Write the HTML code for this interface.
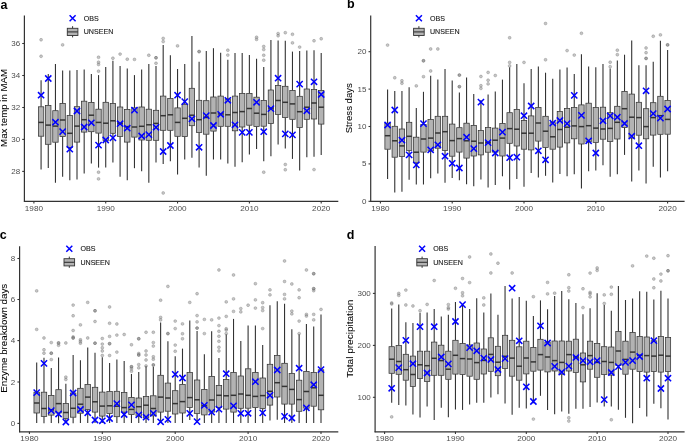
<!DOCTYPE html>
<html><head><meta charset="utf-8"><title>UNSEEN boxplots</title>
<style>
html,body{margin:0;padding:0;background:#fff;}
body{width:685px;height:441px;overflow:hidden;}
svg{display:block;font-family:"Liberation Sans", sans-serif;will-change:transform;}
</style></head>
<body>
<svg width="685" height="441" viewBox="0 0 685 441">
<rect width="685" height="441" fill="#fff"/>
<line x1="41.08" y1="80.20" x2="41.08" y2="106.80" stroke="#333333" stroke-width="1.1"/>
<line x1="41.08" y1="136.20" x2="41.08" y2="169.40" stroke="#333333" stroke-width="1.1"/>
<line x1="48.27" y1="74.10" x2="48.27" y2="105.40" stroke="#333333" stroke-width="1.1"/>
<line x1="48.27" y1="144.30" x2="48.27" y2="168.00" stroke="#333333" stroke-width="1.1"/>
<line x1="55.45" y1="63.90" x2="55.45" y2="110.70" stroke="#333333" stroke-width="1.1"/>
<line x1="55.45" y1="142.20" x2="55.45" y2="182.70" stroke="#333333" stroke-width="1.1"/>
<line x1="62.63" y1="70.40" x2="62.63" y2="103.40" stroke="#333333" stroke-width="1.1"/>
<line x1="62.63" y1="136.50" x2="62.63" y2="176.70" stroke="#333333" stroke-width="1.1"/>
<line x1="69.81" y1="70.60" x2="69.81" y2="115.60" stroke="#333333" stroke-width="1.1"/>
<line x1="69.81" y1="147.50" x2="69.81" y2="180.30" stroke="#333333" stroke-width="1.1"/>
<line x1="77.00" y1="70.00" x2="77.00" y2="106.70" stroke="#333333" stroke-width="1.1"/>
<line x1="77.00" y1="142.10" x2="77.00" y2="179.40" stroke="#333333" stroke-width="1.1"/>
<line x1="84.18" y1="69.40" x2="84.18" y2="101.20" stroke="#333333" stroke-width="1.1"/>
<line x1="84.18" y1="132.10" x2="84.18" y2="173.60" stroke="#333333" stroke-width="1.1"/>
<line x1="91.36" y1="74.10" x2="91.36" y2="102.50" stroke="#333333" stroke-width="1.1"/>
<line x1="91.36" y1="131.70" x2="91.36" y2="163.60" stroke="#333333" stroke-width="1.1"/>
<line x1="98.54" y1="75.10" x2="98.54" y2="109.20" stroke="#333333" stroke-width="1.1"/>
<line x1="98.54" y1="133.10" x2="98.54" y2="167.60" stroke="#333333" stroke-width="1.1"/>
<line x1="105.72" y1="66.90" x2="105.72" y2="102.30" stroke="#333333" stroke-width="1.1"/>
<line x1="105.72" y1="140.50" x2="105.72" y2="167.60" stroke="#333333" stroke-width="1.1"/>
<line x1="112.91" y1="60.80" x2="112.91" y2="103.40" stroke="#333333" stroke-width="1.1"/>
<line x1="112.91" y1="133.30" x2="112.91" y2="162.60" stroke="#333333" stroke-width="1.1"/>
<line x1="120.09" y1="65.90" x2="120.09" y2="107.00" stroke="#333333" stroke-width="1.1"/>
<line x1="120.09" y1="136.40" x2="120.09" y2="176.70" stroke="#333333" stroke-width="1.1"/>
<line x1="127.27" y1="68.40" x2="127.27" y2="109.40" stroke="#333333" stroke-width="1.1"/>
<line x1="127.27" y1="142.10" x2="127.27" y2="180.30" stroke="#333333" stroke-width="1.1"/>
<line x1="134.46" y1="75.10" x2="134.46" y2="107.90" stroke="#333333" stroke-width="1.1"/>
<line x1="134.46" y1="137.10" x2="134.46" y2="168.20" stroke="#333333" stroke-width="1.1"/>
<line x1="141.64" y1="69.40" x2="141.64" y2="107.00" stroke="#333333" stroke-width="1.1"/>
<line x1="141.64" y1="140.00" x2="141.64" y2="171.30" stroke="#333333" stroke-width="1.1"/>
<line x1="148.82" y1="63.90" x2="148.82" y2="109.20" stroke="#333333" stroke-width="1.1"/>
<line x1="148.82" y1="140.30" x2="148.82" y2="182.70" stroke="#333333" stroke-width="1.1"/>
<line x1="156.00" y1="65.90" x2="156.00" y2="110.30" stroke="#333333" stroke-width="1.1"/>
<line x1="156.00" y1="140.30" x2="156.00" y2="162.60" stroke="#333333" stroke-width="1.1"/>
<line x1="163.19" y1="44.90" x2="163.19" y2="96.10" stroke="#333333" stroke-width="1.1"/>
<line x1="163.19" y1="130.30" x2="163.19" y2="164.00" stroke="#333333" stroke-width="1.1"/>
<line x1="170.37" y1="55.30" x2="170.37" y2="98.50" stroke="#333333" stroke-width="1.1"/>
<line x1="170.37" y1="130.30" x2="170.37" y2="161.30" stroke="#333333" stroke-width="1.1"/>
<line x1="177.55" y1="69.00" x2="177.55" y2="107.90" stroke="#333333" stroke-width="1.1"/>
<line x1="177.55" y1="136.30" x2="177.55" y2="174.50" stroke="#333333" stroke-width="1.1"/>
<line x1="184.73" y1="63.90" x2="184.73" y2="104.30" stroke="#333333" stroke-width="1.1"/>
<line x1="184.73" y1="136.60" x2="184.73" y2="159.50" stroke="#333333" stroke-width="1.1"/>
<line x1="191.92" y1="35.90" x2="191.92" y2="88.30" stroke="#333333" stroke-width="1.1"/>
<line x1="191.92" y1="125.70" x2="191.92" y2="157.70" stroke="#333333" stroke-width="1.1"/>
<line x1="199.10" y1="61.80" x2="199.10" y2="100.30" stroke="#333333" stroke-width="1.1"/>
<line x1="199.10" y1="132.40" x2="199.10" y2="167.60" stroke="#333333" stroke-width="1.1"/>
<line x1="206.28" y1="51.00" x2="206.28" y2="100.70" stroke="#333333" stroke-width="1.1"/>
<line x1="206.28" y1="134.20" x2="206.28" y2="175.80" stroke="#333333" stroke-width="1.1"/>
<line x1="213.46" y1="48.20" x2="213.46" y2="97.00" stroke="#333333" stroke-width="1.1"/>
<line x1="213.46" y1="131.10" x2="213.46" y2="159.50" stroke="#333333" stroke-width="1.1"/>
<line x1="220.65" y1="52.70" x2="220.65" y2="96.10" stroke="#333333" stroke-width="1.1"/>
<line x1="220.65" y1="126.30" x2="220.65" y2="159.50" stroke="#333333" stroke-width="1.1"/>
<line x1="227.83" y1="59.80" x2="227.83" y2="98.90" stroke="#333333" stroke-width="1.1"/>
<line x1="227.83" y1="126.30" x2="227.83" y2="163.50" stroke="#333333" stroke-width="1.1"/>
<line x1="235.01" y1="53.10" x2="235.01" y2="96.10" stroke="#333333" stroke-width="1.1"/>
<line x1="235.01" y1="130.80" x2="235.01" y2="166.70" stroke="#333333" stroke-width="1.1"/>
<line x1="242.19" y1="53.10" x2="242.19" y2="93.40" stroke="#333333" stroke-width="1.1"/>
<line x1="242.19" y1="127.00" x2="242.19" y2="162.20" stroke="#333333" stroke-width="1.1"/>
<line x1="249.38" y1="55.10" x2="249.38" y2="93.40" stroke="#333333" stroke-width="1.1"/>
<line x1="249.38" y1="125.20" x2="249.38" y2="154.40" stroke="#333333" stroke-width="1.1"/>
<line x1="256.56" y1="58.80" x2="256.56" y2="97.20" stroke="#333333" stroke-width="1.1"/>
<line x1="256.56" y1="126.60" x2="256.56" y2="149.10" stroke="#333333" stroke-width="1.1"/>
<line x1="263.74" y1="66.90" x2="263.74" y2="100.50" stroke="#333333" stroke-width="1.1"/>
<line x1="263.74" y1="126.20" x2="263.74" y2="161.30" stroke="#333333" stroke-width="1.1"/>
<line x1="270.92" y1="40.00" x2="270.92" y2="90.00" stroke="#333333" stroke-width="1.1"/>
<line x1="270.92" y1="123.50" x2="270.92" y2="156.20" stroke="#333333" stroke-width="1.1"/>
<line x1="278.11" y1="40.60" x2="278.11" y2="85.40" stroke="#333333" stroke-width="1.1"/>
<line x1="278.11" y1="114.40" x2="278.11" y2="144.60" stroke="#333333" stroke-width="1.1"/>
<line x1="285.29" y1="40.80" x2="285.29" y2="86.30" stroke="#333333" stroke-width="1.1"/>
<line x1="285.29" y1="117.50" x2="285.29" y2="148.60" stroke="#333333" stroke-width="1.1"/>
<line x1="292.47" y1="51.60" x2="292.47" y2="90.50" stroke="#333333" stroke-width="1.1"/>
<line x1="292.47" y1="119.30" x2="292.47" y2="158.90" stroke="#333333" stroke-width="1.1"/>
<line x1="299.65" y1="51.00" x2="299.65" y2="96.30" stroke="#333333" stroke-width="1.1"/>
<line x1="299.65" y1="127.50" x2="299.65" y2="170.40" stroke="#333333" stroke-width="1.1"/>
<line x1="306.83" y1="50.60" x2="306.83" y2="89.00" stroke="#333333" stroke-width="1.1"/>
<line x1="306.83" y1="119.30" x2="306.83" y2="157.30" stroke="#333333" stroke-width="1.1"/>
<line x1="314.02" y1="50.20" x2="314.02" y2="89.40" stroke="#333333" stroke-width="1.1"/>
<line x1="314.02" y1="119.00" x2="314.02" y2="156.70" stroke="#333333" stroke-width="1.1"/>
<line x1="321.20" y1="53.10" x2="321.20" y2="90.50" stroke="#333333" stroke-width="1.1"/>
<line x1="321.20" y1="124.10" x2="321.20" y2="154.90" stroke="#333333" stroke-width="1.1"/>
<rect x="38.39" y="106.80" width="5.39" height="29.40" fill="#b3b3b3" stroke="#333333" stroke-width="0.75"/>
<line x1="38.39" y1="122.40" x2="43.78" y2="122.40" stroke="#333333" stroke-width="1.5"/>
<rect x="45.57" y="105.40" width="5.39" height="38.90" fill="#b3b3b3" stroke="#333333" stroke-width="0.75"/>
<line x1="45.57" y1="125.10" x2="50.96" y2="125.10" stroke="#333333" stroke-width="1.5"/>
<rect x="52.75" y="110.70" width="5.39" height="31.50" fill="#b3b3b3" stroke="#333333" stroke-width="0.75"/>
<line x1="52.75" y1="126.10" x2="58.14" y2="126.10" stroke="#333333" stroke-width="1.5"/>
<rect x="59.94" y="103.40" width="5.39" height="33.10" fill="#b3b3b3" stroke="#333333" stroke-width="0.75"/>
<line x1="59.94" y1="120.00" x2="65.32" y2="120.00" stroke="#333333" stroke-width="1.5"/>
<rect x="67.12" y="115.60" width="5.39" height="31.90" fill="#b3b3b3" stroke="#333333" stroke-width="0.75"/>
<line x1="67.12" y1="133.30" x2="72.51" y2="133.30" stroke="#333333" stroke-width="1.5"/>
<rect x="74.30" y="106.70" width="5.39" height="35.40" fill="#b3b3b3" stroke="#333333" stroke-width="0.75"/>
<line x1="74.30" y1="126.10" x2="79.69" y2="126.10" stroke="#333333" stroke-width="1.5"/>
<rect x="81.48" y="101.20" width="5.39" height="30.90" fill="#b3b3b3" stroke="#333333" stroke-width="0.75"/>
<line x1="81.48" y1="119.70" x2="86.87" y2="119.70" stroke="#333333" stroke-width="1.5"/>
<rect x="88.67" y="102.50" width="5.39" height="29.20" fill="#b3b3b3" stroke="#333333" stroke-width="0.75"/>
<line x1="88.67" y1="115.20" x2="94.05" y2="115.20" stroke="#333333" stroke-width="1.5"/>
<rect x="95.85" y="109.20" width="5.39" height="23.90" fill="#b3b3b3" stroke="#333333" stroke-width="0.75"/>
<line x1="95.85" y1="122.40" x2="101.24" y2="122.40" stroke="#333333" stroke-width="1.5"/>
<rect x="103.03" y="102.30" width="5.39" height="38.20" fill="#b3b3b3" stroke="#333333" stroke-width="0.75"/>
<line x1="103.03" y1="123.20" x2="108.42" y2="123.20" stroke="#333333" stroke-width="1.5"/>
<rect x="110.21" y="103.40" width="5.39" height="29.90" fill="#b3b3b3" stroke="#333333" stroke-width="0.75"/>
<line x1="110.21" y1="120.80" x2="115.60" y2="120.80" stroke="#333333" stroke-width="1.5"/>
<rect x="117.40" y="107.00" width="5.39" height="29.40" fill="#b3b3b3" stroke="#333333" stroke-width="0.75"/>
<line x1="117.40" y1="123.40" x2="122.78" y2="123.40" stroke="#333333" stroke-width="1.5"/>
<rect x="124.58" y="109.40" width="5.39" height="32.70" fill="#b3b3b3" stroke="#333333" stroke-width="0.75"/>
<line x1="124.58" y1="126.60" x2="129.97" y2="126.60" stroke="#333333" stroke-width="1.5"/>
<rect x="131.76" y="107.90" width="5.39" height="29.20" fill="#b3b3b3" stroke="#333333" stroke-width="0.75"/>
<line x1="131.76" y1="127.00" x2="137.15" y2="127.00" stroke="#333333" stroke-width="1.5"/>
<rect x="138.94" y="107.00" width="5.39" height="33.00" fill="#b3b3b3" stroke="#333333" stroke-width="0.75"/>
<line x1="138.94" y1="126.30" x2="144.33" y2="126.30" stroke="#333333" stroke-width="1.5"/>
<rect x="146.13" y="109.20" width="5.39" height="31.10" fill="#b3b3b3" stroke="#333333" stroke-width="0.75"/>
<line x1="146.13" y1="124.80" x2="151.51" y2="124.80" stroke="#333333" stroke-width="1.5"/>
<rect x="153.31" y="110.30" width="5.39" height="30.00" fill="#b3b3b3" stroke="#333333" stroke-width="0.75"/>
<line x1="153.31" y1="123.40" x2="158.70" y2="123.40" stroke="#333333" stroke-width="1.5"/>
<rect x="160.49" y="96.10" width="5.39" height="34.20" fill="#b3b3b3" stroke="#333333" stroke-width="0.75"/>
<line x1="160.49" y1="115.70" x2="165.88" y2="115.70" stroke="#333333" stroke-width="1.5"/>
<rect x="167.67" y="98.50" width="5.39" height="31.80" fill="#b3b3b3" stroke="#333333" stroke-width="0.75"/>
<line x1="167.67" y1="114.80" x2="173.06" y2="114.80" stroke="#333333" stroke-width="1.5"/>
<rect x="174.86" y="107.90" width="5.39" height="28.40" fill="#b3b3b3" stroke="#333333" stroke-width="0.75"/>
<line x1="174.86" y1="122.40" x2="180.24" y2="122.40" stroke="#333333" stroke-width="1.5"/>
<rect x="182.04" y="104.30" width="5.39" height="32.30" fill="#b3b3b3" stroke="#333333" stroke-width="0.75"/>
<line x1="182.04" y1="118.30" x2="187.43" y2="118.30" stroke="#333333" stroke-width="1.5"/>
<rect x="189.22" y="88.30" width="5.39" height="37.40" fill="#b3b3b3" stroke="#333333" stroke-width="0.75"/>
<line x1="189.22" y1="115.20" x2="194.61" y2="115.20" stroke="#333333" stroke-width="1.5"/>
<rect x="196.40" y="100.30" width="5.39" height="32.10" fill="#b3b3b3" stroke="#333333" stroke-width="0.75"/>
<line x1="196.40" y1="119.70" x2="201.79" y2="119.70" stroke="#333333" stroke-width="1.5"/>
<rect x="203.59" y="100.70" width="5.39" height="33.50" fill="#b3b3b3" stroke="#333333" stroke-width="0.75"/>
<line x1="203.59" y1="117.50" x2="208.97" y2="117.50" stroke="#333333" stroke-width="1.5"/>
<rect x="210.77" y="97.00" width="5.39" height="34.10" fill="#b3b3b3" stroke="#333333" stroke-width="0.75"/>
<line x1="210.77" y1="113.00" x2="216.16" y2="113.00" stroke="#333333" stroke-width="1.5"/>
<rect x="217.95" y="96.10" width="5.39" height="30.20" fill="#b3b3b3" stroke="#333333" stroke-width="0.75"/>
<line x1="217.95" y1="113.90" x2="223.34" y2="113.90" stroke="#333333" stroke-width="1.5"/>
<rect x="225.13" y="98.90" width="5.39" height="27.40" fill="#b3b3b3" stroke="#333333" stroke-width="0.75"/>
<line x1="225.13" y1="114.80" x2="230.52" y2="114.80" stroke="#333333" stroke-width="1.5"/>
<rect x="232.32" y="96.10" width="5.39" height="34.70" fill="#b3b3b3" stroke="#333333" stroke-width="0.75"/>
<line x1="232.32" y1="112.50" x2="237.70" y2="112.50" stroke="#333333" stroke-width="1.5"/>
<rect x="239.50" y="93.40" width="5.39" height="33.60" fill="#b3b3b3" stroke="#333333" stroke-width="0.75"/>
<line x1="239.50" y1="111.60" x2="244.89" y2="111.60" stroke="#333333" stroke-width="1.5"/>
<rect x="246.68" y="93.40" width="5.39" height="31.80" fill="#b3b3b3" stroke="#333333" stroke-width="0.75"/>
<line x1="246.68" y1="108.50" x2="252.07" y2="108.50" stroke="#333333" stroke-width="1.5"/>
<rect x="253.86" y="97.20" width="5.39" height="29.40" fill="#b3b3b3" stroke="#333333" stroke-width="0.75"/>
<line x1="253.86" y1="113.20" x2="259.25" y2="113.20" stroke="#333333" stroke-width="1.5"/>
<rect x="261.05" y="100.50" width="5.39" height="25.70" fill="#b3b3b3" stroke="#333333" stroke-width="0.75"/>
<line x1="261.05" y1="114.40" x2="266.43" y2="114.40" stroke="#333333" stroke-width="1.5"/>
<rect x="268.23" y="90.00" width="5.39" height="33.50" fill="#b3b3b3" stroke="#333333" stroke-width="0.75"/>
<line x1="268.23" y1="108.10" x2="273.62" y2="108.10" stroke="#333333" stroke-width="1.5"/>
<rect x="275.41" y="85.40" width="5.39" height="29.00" fill="#b3b3b3" stroke="#333333" stroke-width="0.75"/>
<line x1="275.41" y1="100.50" x2="280.80" y2="100.50" stroke="#333333" stroke-width="1.5"/>
<rect x="282.59" y="86.30" width="5.39" height="31.20" fill="#b3b3b3" stroke="#333333" stroke-width="0.75"/>
<line x1="282.59" y1="102.30" x2="287.98" y2="102.30" stroke="#333333" stroke-width="1.5"/>
<rect x="289.78" y="90.50" width="5.39" height="28.80" fill="#b3b3b3" stroke="#333333" stroke-width="0.75"/>
<line x1="289.78" y1="103.90" x2="295.16" y2="103.90" stroke="#333333" stroke-width="1.5"/>
<rect x="296.96" y="96.30" width="5.39" height="31.20" fill="#b3b3b3" stroke="#333333" stroke-width="0.75"/>
<line x1="296.96" y1="111.70" x2="302.35" y2="111.70" stroke="#333333" stroke-width="1.5"/>
<rect x="304.14" y="89.00" width="5.39" height="30.30" fill="#b3b3b3" stroke="#333333" stroke-width="0.75"/>
<line x1="304.14" y1="107.20" x2="309.53" y2="107.20" stroke="#333333" stroke-width="1.5"/>
<rect x="311.32" y="89.40" width="5.39" height="29.60" fill="#b3b3b3" stroke="#333333" stroke-width="0.75"/>
<line x1="311.32" y1="103.00" x2="316.71" y2="103.00" stroke="#333333" stroke-width="1.5"/>
<rect x="318.51" y="90.50" width="5.39" height="33.60" fill="#b3b3b3" stroke="#333333" stroke-width="0.75"/>
<line x1="318.51" y1="107.20" x2="323.89" y2="107.20" stroke="#333333" stroke-width="1.5"/>
<circle cx="41.08" cy="39.80" r="1.45" fill="#7a7a7a" fill-opacity="0.42" stroke="#666666" stroke-opacity="0.5" stroke-width="0.6"/>
<circle cx="41.08" cy="56.30" r="1.45" fill="#7a7a7a" fill-opacity="0.42" stroke="#666666" stroke-opacity="0.5" stroke-width="0.6"/>
<circle cx="62.63" cy="44.90" r="1.45" fill="#7a7a7a" fill-opacity="0.42" stroke="#666666" stroke-opacity="0.5" stroke-width="0.6"/>
<circle cx="98.54" cy="57.30" r="1.45" fill="#7a7a7a" fill-opacity="0.42" stroke="#666666" stroke-opacity="0.5" stroke-width="0.6"/>
<circle cx="98.54" cy="62.20" r="1.45" fill="#7a7a7a" fill-opacity="0.42" stroke="#666666" stroke-opacity="0.5" stroke-width="0.6"/>
<circle cx="98.54" cy="64.50" r="1.45" fill="#7a7a7a" fill-opacity="0.42" stroke="#666666" stroke-opacity="0.5" stroke-width="0.6"/>
<circle cx="98.54" cy="71.20" r="1.45" fill="#7a7a7a" fill-opacity="0.42" stroke="#666666" stroke-opacity="0.5" stroke-width="0.6"/>
<circle cx="98.54" cy="172.20" r="1.45" fill="#7a7a7a" fill-opacity="0.42" stroke="#666666" stroke-opacity="0.5" stroke-width="0.6"/>
<circle cx="98.54" cy="178.90" r="1.45" fill="#7a7a7a" fill-opacity="0.42" stroke="#666666" stroke-opacity="0.5" stroke-width="0.6"/>
<circle cx="112.91" cy="58.20" r="1.45" fill="#7a7a7a" fill-opacity="0.42" stroke="#666666" stroke-opacity="0.5" stroke-width="0.6"/>
<circle cx="120.09" cy="54.10" r="1.45" fill="#7a7a7a" fill-opacity="0.42" stroke="#666666" stroke-opacity="0.5" stroke-width="0.6"/>
<circle cx="127.27" cy="59.20" r="1.45" fill="#7a7a7a" fill-opacity="0.42" stroke="#666666" stroke-opacity="0.5" stroke-width="0.6"/>
<circle cx="134.46" cy="59.40" r="1.45" fill="#7a7a7a" fill-opacity="0.42" stroke="#666666" stroke-opacity="0.5" stroke-width="0.6"/>
<circle cx="148.82" cy="55.30" r="1.45" fill="#7a7a7a" fill-opacity="0.42" stroke="#666666" stroke-opacity="0.5" stroke-width="0.6"/>
<circle cx="156.00" cy="57.80" r="1.45" fill="#7a7a7a" fill-opacity="0.42" stroke="#666666" stroke-opacity="0.5" stroke-width="0.6"/>
<circle cx="156.00" cy="57.80" r="1.45" fill="#7a7a7a" fill-opacity="0.42" stroke="#666666" stroke-opacity="0.5" stroke-width="0.6"/>
<circle cx="156.00" cy="63.30" r="1.45" fill="#7a7a7a" fill-opacity="0.42" stroke="#666666" stroke-opacity="0.5" stroke-width="0.6"/>
<circle cx="163.19" cy="38.40" r="1.45" fill="#7a7a7a" fill-opacity="0.42" stroke="#666666" stroke-opacity="0.5" stroke-width="0.6"/>
<circle cx="163.19" cy="41.60" r="1.45" fill="#7a7a7a" fill-opacity="0.42" stroke="#666666" stroke-opacity="0.5" stroke-width="0.6"/>
<circle cx="163.19" cy="193.00" r="1.45" fill="#7a7a7a" fill-opacity="0.42" stroke="#666666" stroke-opacity="0.5" stroke-width="0.6"/>
<circle cx="177.55" cy="45.90" r="1.45" fill="#7a7a7a" fill-opacity="0.42" stroke="#666666" stroke-opacity="0.5" stroke-width="0.6"/>
<circle cx="199.10" cy="51.60" r="1.45" fill="#7a7a7a" fill-opacity="0.42" stroke="#666666" stroke-opacity="0.5" stroke-width="0.6"/>
<circle cx="199.10" cy="51.60" r="1.45" fill="#7a7a7a" fill-opacity="0.42" stroke="#666666" stroke-opacity="0.5" stroke-width="0.6"/>
<circle cx="227.83" cy="50.20" r="1.45" fill="#7a7a7a" fill-opacity="0.42" stroke="#666666" stroke-opacity="0.5" stroke-width="0.6"/>
<circle cx="227.83" cy="55.10" r="1.45" fill="#7a7a7a" fill-opacity="0.42" stroke="#666666" stroke-opacity="0.5" stroke-width="0.6"/>
<circle cx="256.56" cy="37.30" r="1.45" fill="#7a7a7a" fill-opacity="0.42" stroke="#666666" stroke-opacity="0.5" stroke-width="0.6"/>
<circle cx="256.56" cy="39.40" r="1.45" fill="#7a7a7a" fill-opacity="0.42" stroke="#666666" stroke-opacity="0.5" stroke-width="0.6"/>
<circle cx="263.74" cy="46.50" r="1.45" fill="#7a7a7a" fill-opacity="0.42" stroke="#666666" stroke-opacity="0.5" stroke-width="0.6"/>
<circle cx="263.74" cy="49.60" r="1.45" fill="#7a7a7a" fill-opacity="0.42" stroke="#666666" stroke-opacity="0.5" stroke-width="0.6"/>
<circle cx="263.74" cy="55.30" r="1.45" fill="#7a7a7a" fill-opacity="0.42" stroke="#666666" stroke-opacity="0.5" stroke-width="0.6"/>
<circle cx="263.74" cy="60.20" r="1.45" fill="#7a7a7a" fill-opacity="0.42" stroke="#666666" stroke-opacity="0.5" stroke-width="0.6"/>
<circle cx="263.74" cy="172.20" r="1.45" fill="#7a7a7a" fill-opacity="0.42" stroke="#666666" stroke-opacity="0.5" stroke-width="0.6"/>
<circle cx="278.11" cy="33.60" r="1.45" fill="#7a7a7a" fill-opacity="0.42" stroke="#666666" stroke-opacity="0.5" stroke-width="0.6"/>
<circle cx="278.11" cy="35.80" r="1.45" fill="#7a7a7a" fill-opacity="0.42" stroke="#666666" stroke-opacity="0.5" stroke-width="0.6"/>
<circle cx="285.29" cy="32.70" r="1.45" fill="#7a7a7a" fill-opacity="0.42" stroke="#666666" stroke-opacity="0.5" stroke-width="0.6"/>
<circle cx="285.29" cy="164.50" r="1.45" fill="#7a7a7a" fill-opacity="0.42" stroke="#666666" stroke-opacity="0.5" stroke-width="0.6"/>
<circle cx="285.29" cy="169.80" r="1.45" fill="#7a7a7a" fill-opacity="0.42" stroke="#666666" stroke-opacity="0.5" stroke-width="0.6"/>
<circle cx="292.47" cy="34.30" r="1.45" fill="#7a7a7a" fill-opacity="0.42" stroke="#666666" stroke-opacity="0.5" stroke-width="0.6"/>
<circle cx="292.47" cy="42.90" r="1.45" fill="#7a7a7a" fill-opacity="0.42" stroke="#666666" stroke-opacity="0.5" stroke-width="0.6"/>
<circle cx="299.65" cy="47.10" r="1.45" fill="#7a7a7a" fill-opacity="0.42" stroke="#666666" stroke-opacity="0.5" stroke-width="0.6"/>
<circle cx="314.02" cy="40.80" r="1.45" fill="#7a7a7a" fill-opacity="0.42" stroke="#666666" stroke-opacity="0.5" stroke-width="0.6"/>
<circle cx="314.02" cy="169.60" r="1.45" fill="#7a7a7a" fill-opacity="0.42" stroke="#666666" stroke-opacity="0.5" stroke-width="0.6"/>
<circle cx="321.20" cy="38.80" r="1.45" fill="#7a7a7a" fill-opacity="0.42" stroke="#666666" stroke-opacity="0.5" stroke-width="0.6"/>
<path d="M37.98 92.10L44.18 98.30M37.98 98.30L44.18 92.10" stroke="#0000ff" stroke-width="1.5" fill="none"/>
<path d="M45.16 75.40L51.37 81.60M45.16 81.60L51.37 75.40" stroke="#0000ff" stroke-width="1.5" fill="none"/>
<path d="M52.35 119.10L58.55 125.30M52.35 125.30L58.55 119.10" stroke="#0000ff" stroke-width="1.5" fill="none"/>
<path d="M59.53 128.50L65.73 134.70M59.53 134.70L65.73 128.50" stroke="#0000ff" stroke-width="1.5" fill="none"/>
<path d="M66.71 146.10L72.91 152.30M66.71 152.30L72.91 146.10" stroke="#0000ff" stroke-width="1.5" fill="none"/>
<path d="M73.90 107.90L80.09 114.10M73.90 114.10L80.09 107.90" stroke="#0000ff" stroke-width="1.5" fill="none"/>
<path d="M81.08 123.90L87.28 130.10M81.08 130.10L87.28 123.90" stroke="#0000ff" stroke-width="1.5" fill="none"/>
<path d="M88.26 119.70L94.46 125.90M88.26 125.90L94.46 119.70" stroke="#0000ff" stroke-width="1.5" fill="none"/>
<path d="M95.44 142.00L101.64 148.20M95.44 148.20L101.64 142.00" stroke="#0000ff" stroke-width="1.5" fill="none"/>
<path d="M102.62 136.90L108.82 143.10M102.62 143.10L108.82 136.90" stroke="#0000ff" stroke-width="1.5" fill="none"/>
<path d="M109.81 134.80L116.01 141.00M109.81 141.00L116.01 134.80" stroke="#0000ff" stroke-width="1.5" fill="none"/>
<path d="M116.99 120.60L123.19 126.80M116.99 126.80L123.19 120.60" stroke="#0000ff" stroke-width="1.5" fill="none"/>
<path d="M124.17 125.10L130.37 131.30M124.17 131.30L130.37 125.10" stroke="#0000ff" stroke-width="1.5" fill="none"/>
<path d="M131.36 107.00L137.56 113.20M131.36 113.20L137.56 107.00" stroke="#0000ff" stroke-width="1.5" fill="none"/>
<path d="M138.54 132.90L144.74 139.10M138.54 139.10L144.74 132.90" stroke="#0000ff" stroke-width="1.5" fill="none"/>
<path d="M145.72 131.50L151.92 137.70M145.72 137.70L151.92 131.50" stroke="#0000ff" stroke-width="1.5" fill="none"/>
<path d="M152.90 124.20L159.10 130.40M152.90 130.40L159.10 124.20" stroke="#0000ff" stroke-width="1.5" fill="none"/>
<path d="M160.09 148.40L166.28 154.60M160.09 154.60L166.28 148.40" stroke="#0000ff" stroke-width="1.5" fill="none"/>
<path d="M167.27 142.40L173.47 148.60M167.27 148.60L173.47 142.40" stroke="#0000ff" stroke-width="1.5" fill="none"/>
<path d="M174.45 92.10L180.65 98.30M174.45 98.30L180.65 92.10" stroke="#0000ff" stroke-width="1.5" fill="none"/>
<path d="M181.63 98.50L187.83 104.70M181.63 104.70L187.83 98.50" stroke="#0000ff" stroke-width="1.5" fill="none"/>
<path d="M188.82 115.70L195.02 121.90M188.82 121.90L195.02 115.70" stroke="#0000ff" stroke-width="1.5" fill="none"/>
<path d="M196.00 144.20L202.20 150.40M196.00 150.40L202.20 144.20" stroke="#0000ff" stroke-width="1.5" fill="none"/>
<path d="M203.18 112.50L209.38 118.70M203.18 118.70L209.38 112.50" stroke="#0000ff" stroke-width="1.5" fill="none"/>
<path d="M210.36 122.40L216.56 128.60M210.36 128.60L216.56 122.40" stroke="#0000ff" stroke-width="1.5" fill="none"/>
<path d="M217.55 111.20L223.75 117.40M217.55 117.40L223.75 111.20" stroke="#0000ff" stroke-width="1.5" fill="none"/>
<path d="M224.73 97.20L230.93 103.40M224.73 103.40L230.93 97.20" stroke="#0000ff" stroke-width="1.5" fill="none"/>
<path d="M231.91 121.70L238.11 127.90M231.91 127.90L238.11 121.70" stroke="#0000ff" stroke-width="1.5" fill="none"/>
<path d="M239.09 129.30L245.29 135.50M239.09 135.50L245.29 129.30" stroke="#0000ff" stroke-width="1.5" fill="none"/>
<path d="M246.28 129.30L252.47 135.50M246.28 135.50L252.47 129.30" stroke="#0000ff" stroke-width="1.5" fill="none"/>
<path d="M253.46 99.20L259.66 105.40M253.46 105.40L259.66 99.20" stroke="#0000ff" stroke-width="1.5" fill="none"/>
<path d="M260.64 128.60L266.84 134.80M260.64 134.80L266.84 128.60" stroke="#0000ff" stroke-width="1.5" fill="none"/>
<path d="M267.82 105.50L274.02 111.70M267.82 111.70L274.02 105.50" stroke="#0000ff" stroke-width="1.5" fill="none"/>
<path d="M275.00 75.10L281.21 81.30M275.00 81.30L281.21 75.10" stroke="#0000ff" stroke-width="1.5" fill="none"/>
<path d="M282.19 130.80L288.39 137.00M282.19 137.00L288.39 130.80" stroke="#0000ff" stroke-width="1.5" fill="none"/>
<path d="M289.37 131.80L295.57 138.00M289.37 138.00L295.57 131.80" stroke="#0000ff" stroke-width="1.5" fill="none"/>
<path d="M296.55 81.00L302.75 87.20M296.55 87.20L302.75 81.00" stroke="#0000ff" stroke-width="1.5" fill="none"/>
<path d="M303.73 107.70L309.94 113.90M303.73 113.90L309.94 107.70" stroke="#0000ff" stroke-width="1.5" fill="none"/>
<path d="M310.92 78.70L317.12 84.90M310.92 84.90L317.12 78.70" stroke="#0000ff" stroke-width="1.5" fill="none"/>
<path d="M318.10 91.40L324.30 97.60M318.10 97.60L324.30 91.40" stroke="#0000ff" stroke-width="1.5" fill="none"/>
<line x1="24.40" y1="15.40" x2="24.40" y2="201.80" stroke="#333333" stroke-width="1.2"/>
<line x1="23.90" y1="201.30" x2="338.30" y2="201.30" stroke="#333333" stroke-width="1.2"/>
<line x1="22.20" y1="43.50" x2="24.40" y2="43.50" stroke="#333333" stroke-width="1.07"/>
<text transform="translate(20.10,46.05) scale(1.13,1)" text-anchor="end" font-size="7.1" fill="#4d4d4d">36</text>
<line x1="22.20" y1="75.50" x2="24.40" y2="75.50" stroke="#333333" stroke-width="1.07"/>
<text transform="translate(20.10,78.05) scale(1.13,1)" text-anchor="end" font-size="7.1" fill="#4d4d4d">34</text>
<line x1="22.20" y1="107.50" x2="24.40" y2="107.50" stroke="#333333" stroke-width="1.07"/>
<text transform="translate(20.10,110.05) scale(1.13,1)" text-anchor="end" font-size="7.1" fill="#4d4d4d">32</text>
<line x1="22.20" y1="139.40" x2="24.40" y2="139.40" stroke="#333333" stroke-width="1.07"/>
<text transform="translate(20.10,141.95) scale(1.13,1)" text-anchor="end" font-size="7.1" fill="#4d4d4d">30</text>
<line x1="22.20" y1="171.40" x2="24.40" y2="171.40" stroke="#333333" stroke-width="1.07"/>
<text transform="translate(20.10,173.95) scale(1.13,1)" text-anchor="end" font-size="7.1" fill="#4d4d4d">28</text>
<line x1="33.90" y1="201.30" x2="33.90" y2="203.50" stroke="#333333" stroke-width="1.07"/>
<text transform="translate(33.90,210.50) scale(1.05,1)" text-anchor="middle" font-size="7.8" fill="#4d4d4d">1980</text>
<line x1="105.72" y1="201.30" x2="105.72" y2="203.50" stroke="#333333" stroke-width="1.07"/>
<text transform="translate(105.72,210.50) scale(1.05,1)" text-anchor="middle" font-size="7.8" fill="#4d4d4d">1990</text>
<line x1="177.55" y1="201.30" x2="177.55" y2="203.50" stroke="#333333" stroke-width="1.07"/>
<text transform="translate(177.55,210.50) scale(1.05,1)" text-anchor="middle" font-size="7.8" fill="#4d4d4d">2000</text>
<line x1="249.38" y1="201.30" x2="249.38" y2="203.50" stroke="#333333" stroke-width="1.07"/>
<text transform="translate(249.38,210.50) scale(1.05,1)" text-anchor="middle" font-size="7.8" fill="#4d4d4d">2010</text>
<line x1="321.20" y1="201.30" x2="321.20" y2="203.50" stroke="#333333" stroke-width="1.07"/>
<text transform="translate(321.20,210.50) scale(1.05,1)" text-anchor="middle" font-size="7.8" fill="#4d4d4d">2020</text>
<text transform="translate(6.80,107.95) rotate(-90)" text-anchor="middle" font-size="8.4" stroke="#000" stroke-width="0.05" fill="#000" textLength="77.9" lengthAdjust="spacingAndGlyphs">Max temp in MAM</text>
<path d="M69.60 15.30L75.60 21.30M69.60 21.30L75.60 15.30" stroke="#0000ff" stroke-width="1.5" fill="none"/>
<text x="83.70" y="21.05" font-size="7.1" fill="#1a1a1a" stroke="#1a1a1a" stroke-width="0.12">OBS</text>
<line x1="72.60" y1="26.20" x2="72.60" y2="37.40" stroke="#333333" stroke-width="1.0"/>
<rect x="67.30" y="28.30" width="10.6" height="7.2" fill="#b3b3b3" stroke="#333333" stroke-width="0.9"/>
<line x1="67.30" y1="31.90" x2="77.90" y2="31.90" stroke="#333333" stroke-width="1.1"/>
<text x="83.70" y="34.30" font-size="7.1" fill="#1a1a1a" stroke="#1a1a1a" stroke-width="0.12">UNSEEN</text>
<text x="0.50" y="8.60" font-size="12.5" font-weight="bold" fill="#000">a</text>
<line x1="387.58" y1="89.40" x2="387.58" y2="123.20" stroke="#333333" stroke-width="1.1"/>
<line x1="387.58" y1="149.20" x2="387.58" y2="178.90" stroke="#333333" stroke-width="1.1"/>
<line x1="394.76" y1="91.00" x2="394.76" y2="126.30" stroke="#333333" stroke-width="1.1"/>
<line x1="394.76" y1="157.20" x2="394.76" y2="192.50" stroke="#333333" stroke-width="1.1"/>
<line x1="401.94" y1="91.00" x2="401.94" y2="129.00" stroke="#333333" stroke-width="1.1"/>
<line x1="401.94" y1="156.50" x2="401.94" y2="191.80" stroke="#333333" stroke-width="1.1"/>
<line x1="409.12" y1="87.30" x2="409.12" y2="122.30" stroke="#333333" stroke-width="1.1"/>
<line x1="409.12" y1="150.40" x2="409.12" y2="179.80" stroke="#333333" stroke-width="1.1"/>
<line x1="416.30" y1="108.10" x2="416.30" y2="137.20" stroke="#333333" stroke-width="1.1"/>
<line x1="416.30" y1="162.80" x2="416.30" y2="184.50" stroke="#333333" stroke-width="1.1"/>
<line x1="423.48" y1="91.80" x2="423.48" y2="124.50" stroke="#333333" stroke-width="1.1"/>
<line x1="423.48" y1="152.10" x2="423.48" y2="184.50" stroke="#333333" stroke-width="1.1"/>
<line x1="430.66" y1="75.70" x2="430.66" y2="119.60" stroke="#333333" stroke-width="1.1"/>
<line x1="430.66" y1="151.00" x2="430.66" y2="178.20" stroke="#333333" stroke-width="1.1"/>
<line x1="437.84" y1="79.60" x2="437.84" y2="116.30" stroke="#333333" stroke-width="1.1"/>
<line x1="437.84" y1="148.20" x2="437.84" y2="173.60" stroke="#333333" stroke-width="1.1"/>
<line x1="445.02" y1="69.00" x2="445.02" y2="116.30" stroke="#333333" stroke-width="1.1"/>
<line x1="445.02" y1="150.40" x2="445.02" y2="182.70" stroke="#333333" stroke-width="1.1"/>
<line x1="452.20" y1="80.60" x2="452.20" y2="124.10" stroke="#333333" stroke-width="1.1"/>
<line x1="452.20" y1="156.20" x2="452.20" y2="178.00" stroke="#333333" stroke-width="1.1"/>
<line x1="459.38" y1="92.40" x2="459.38" y2="127.70" stroke="#333333" stroke-width="1.1"/>
<line x1="459.38" y1="152.10" x2="459.38" y2="180.30" stroke="#333333" stroke-width="1.1"/>
<line x1="466.56" y1="77.60" x2="466.56" y2="123.20" stroke="#333333" stroke-width="1.1"/>
<line x1="466.56" y1="158.10" x2="466.56" y2="184.30" stroke="#333333" stroke-width="1.1"/>
<line x1="473.74" y1="93.90" x2="473.74" y2="125.40" stroke="#333333" stroke-width="1.1"/>
<line x1="473.74" y1="156.00" x2="473.74" y2="186.30" stroke="#333333" stroke-width="1.1"/>
<line x1="480.92" y1="100.00" x2="480.92" y2="130.50" stroke="#333333" stroke-width="1.1"/>
<line x1="480.92" y1="154.90" x2="480.92" y2="179.60" stroke="#333333" stroke-width="1.1"/>
<line x1="488.10" y1="94.50" x2="488.10" y2="127.60" stroke="#333333" stroke-width="1.1"/>
<line x1="488.10" y1="152.20" x2="488.10" y2="187.60" stroke="#333333" stroke-width="1.1"/>
<line x1="495.28" y1="91.40" x2="495.28" y2="128.10" stroke="#333333" stroke-width="1.1"/>
<line x1="495.28" y1="152.10" x2="495.28" y2="184.90" stroke="#333333" stroke-width="1.1"/>
<line x1="502.46" y1="79.60" x2="502.46" y2="123.60" stroke="#333333" stroke-width="1.1"/>
<line x1="502.46" y1="156.00" x2="502.46" y2="176.30" stroke="#333333" stroke-width="1.1"/>
<line x1="509.64" y1="67.30" x2="509.64" y2="112.70" stroke="#333333" stroke-width="1.1"/>
<line x1="509.64" y1="143.30" x2="509.64" y2="189.40" stroke="#333333" stroke-width="1.1"/>
<line x1="516.82" y1="63.90" x2="516.82" y2="109.40" stroke="#333333" stroke-width="1.1"/>
<line x1="516.82" y1="146.00" x2="516.82" y2="178.90" stroke="#333333" stroke-width="1.1"/>
<line x1="524.00" y1="83.30" x2="524.00" y2="120.40" stroke="#333333" stroke-width="1.1"/>
<line x1="524.00" y1="149.20" x2="524.00" y2="186.70" stroke="#333333" stroke-width="1.1"/>
<line x1="531.18" y1="69.00" x2="531.18" y2="115.90" stroke="#333333" stroke-width="1.1"/>
<line x1="531.18" y1="149.90" x2="531.18" y2="173.10" stroke="#333333" stroke-width="1.1"/>
<line x1="538.36" y1="66.50" x2="538.36" y2="107.60" stroke="#333333" stroke-width="1.1"/>
<line x1="538.36" y1="141.10" x2="538.36" y2="177.60" stroke="#333333" stroke-width="1.1"/>
<line x1="545.54" y1="72.70" x2="545.54" y2="116.30" stroke="#333333" stroke-width="1.1"/>
<line x1="545.54" y1="147.40" x2="545.54" y2="175.80" stroke="#333333" stroke-width="1.1"/>
<line x1="552.72" y1="78.80" x2="552.72" y2="122.70" stroke="#333333" stroke-width="1.1"/>
<line x1="552.72" y1="149.20" x2="552.72" y2="182.50" stroke="#333333" stroke-width="1.1"/>
<line x1="559.90" y1="69.60" x2="559.90" y2="111.40" stroke="#333333" stroke-width="1.1"/>
<line x1="559.90" y1="147.10" x2="559.90" y2="174.00" stroke="#333333" stroke-width="1.1"/>
<line x1="567.08" y1="67.60" x2="567.08" y2="108.50" stroke="#333333" stroke-width="1.1"/>
<line x1="567.08" y1="142.90" x2="567.08" y2="176.30" stroke="#333333" stroke-width="1.1"/>
<line x1="574.26" y1="74.10" x2="574.26" y2="107.60" stroke="#333333" stroke-width="1.1"/>
<line x1="574.26" y1="138.80" x2="574.26" y2="174.30" stroke="#333333" stroke-width="1.1"/>
<line x1="581.44" y1="54.30" x2="581.44" y2="104.90" stroke="#333333" stroke-width="1.1"/>
<line x1="581.44" y1="144.00" x2="581.44" y2="188.50" stroke="#333333" stroke-width="1.1"/>
<line x1="588.62" y1="66.50" x2="588.62" y2="103.20" stroke="#333333" stroke-width="1.1"/>
<line x1="588.62" y1="141.80" x2="588.62" y2="171.30" stroke="#333333" stroke-width="1.1"/>
<line x1="595.80" y1="67.30" x2="595.80" y2="107.60" stroke="#333333" stroke-width="1.1"/>
<line x1="595.80" y1="142.40" x2="595.80" y2="170.40" stroke="#333333" stroke-width="1.1"/>
<line x1="602.98" y1="63.90" x2="602.98" y2="107.20" stroke="#333333" stroke-width="1.1"/>
<line x1="602.98" y1="139.20" x2="602.98" y2="165.30" stroke="#333333" stroke-width="1.1"/>
<line x1="610.16" y1="68.40" x2="610.16" y2="112.70" stroke="#333333" stroke-width="1.1"/>
<line x1="610.16" y1="141.50" x2="610.16" y2="176.70" stroke="#333333" stroke-width="1.1"/>
<line x1="617.34" y1="60.40" x2="617.34" y2="106.30" stroke="#333333" stroke-width="1.1"/>
<line x1="617.34" y1="139.00" x2="617.34" y2="174.30" stroke="#333333" stroke-width="1.1"/>
<line x1="624.52" y1="54.70" x2="624.52" y2="91.40" stroke="#333333" stroke-width="1.1"/>
<line x1="624.52" y1="127.60" x2="624.52" y2="154.90" stroke="#333333" stroke-width="1.1"/>
<line x1="631.70" y1="40.40" x2="631.70" y2="94.10" stroke="#333333" stroke-width="1.1"/>
<line x1="631.70" y1="138.00" x2="631.70" y2="181.60" stroke="#333333" stroke-width="1.1"/>
<line x1="638.88" y1="65.30" x2="638.88" y2="102.30" stroke="#333333" stroke-width="1.1"/>
<line x1="638.88" y1="135.20" x2="638.88" y2="170.40" stroke="#333333" stroke-width="1.1"/>
<line x1="646.06" y1="65.30" x2="646.06" y2="108.70" stroke="#333333" stroke-width="1.1"/>
<line x1="646.06" y1="138.80" x2="646.06" y2="183.40" stroke="#333333" stroke-width="1.1"/>
<line x1="653.24" y1="61.80" x2="653.24" y2="102.70" stroke="#333333" stroke-width="1.1"/>
<line x1="653.24" y1="135.10" x2="653.24" y2="166.70" stroke="#333333" stroke-width="1.1"/>
<line x1="660.42" y1="40.80" x2="660.42" y2="96.30" stroke="#333333" stroke-width="1.1"/>
<line x1="660.42" y1="134.30" x2="660.42" y2="177.60" stroke="#333333" stroke-width="1.1"/>
<line x1="667.60" y1="50.00" x2="667.60" y2="100.50" stroke="#333333" stroke-width="1.1"/>
<line x1="667.60" y1="134.20" x2="667.60" y2="171.30" stroke="#333333" stroke-width="1.1"/>
<rect x="384.89" y="123.20" width="5.38" height="26.00" fill="#b3b3b3" stroke="#333333" stroke-width="0.75"/>
<line x1="384.89" y1="135.70" x2="390.27" y2="135.70" stroke="#333333" stroke-width="1.5"/>
<rect x="392.07" y="126.30" width="5.38" height="30.90" fill="#b3b3b3" stroke="#333333" stroke-width="0.75"/>
<line x1="392.07" y1="140.80" x2="397.45" y2="140.80" stroke="#333333" stroke-width="1.5"/>
<rect x="399.25" y="129.00" width="5.38" height="27.50" fill="#b3b3b3" stroke="#333333" stroke-width="0.75"/>
<line x1="399.25" y1="145.90" x2="404.63" y2="145.90" stroke="#333333" stroke-width="1.5"/>
<rect x="406.43" y="122.30" width="5.38" height="28.10" fill="#b3b3b3" stroke="#333333" stroke-width="0.75"/>
<line x1="406.43" y1="136.30" x2="411.81" y2="136.30" stroke="#333333" stroke-width="1.5"/>
<rect x="413.61" y="137.20" width="5.38" height="25.60" fill="#b3b3b3" stroke="#333333" stroke-width="0.75"/>
<line x1="413.61" y1="152.20" x2="418.99" y2="152.20" stroke="#333333" stroke-width="1.5"/>
<rect x="420.79" y="124.50" width="5.38" height="27.60" fill="#b3b3b3" stroke="#333333" stroke-width="0.75"/>
<line x1="420.79" y1="139.00" x2="426.17" y2="139.00" stroke="#333333" stroke-width="1.5"/>
<rect x="427.97" y="119.60" width="5.38" height="31.40" fill="#b3b3b3" stroke="#333333" stroke-width="0.75"/>
<line x1="427.97" y1="138.10" x2="433.35" y2="138.10" stroke="#333333" stroke-width="1.5"/>
<rect x="435.15" y="116.30" width="5.38" height="31.90" fill="#b3b3b3" stroke="#333333" stroke-width="0.75"/>
<line x1="435.15" y1="133.00" x2="440.53" y2="133.00" stroke="#333333" stroke-width="1.5"/>
<rect x="442.33" y="116.30" width="5.38" height="34.10" fill="#b3b3b3" stroke="#333333" stroke-width="0.75"/>
<line x1="442.33" y1="131.70" x2="447.71" y2="131.70" stroke="#333333" stroke-width="1.5"/>
<rect x="449.51" y="124.10" width="5.38" height="32.10" fill="#b3b3b3" stroke="#333333" stroke-width="0.75"/>
<line x1="449.51" y1="140.60" x2="454.89" y2="140.60" stroke="#333333" stroke-width="1.5"/>
<rect x="456.69" y="127.70" width="5.38" height="24.40" fill="#b3b3b3" stroke="#333333" stroke-width="0.75"/>
<line x1="456.69" y1="138.60" x2="462.07" y2="138.60" stroke="#333333" stroke-width="1.5"/>
<rect x="463.87" y="123.20" width="5.38" height="34.90" fill="#b3b3b3" stroke="#333333" stroke-width="0.75"/>
<line x1="463.87" y1="140.80" x2="469.25" y2="140.80" stroke="#333333" stroke-width="1.5"/>
<rect x="471.05" y="125.40" width="5.38" height="30.60" fill="#b3b3b3" stroke="#333333" stroke-width="0.75"/>
<line x1="471.05" y1="141.20" x2="476.43" y2="141.20" stroke="#333333" stroke-width="1.5"/>
<rect x="478.23" y="130.50" width="5.38" height="24.40" fill="#b3b3b3" stroke="#333333" stroke-width="0.75"/>
<line x1="478.23" y1="143.00" x2="483.61" y2="143.00" stroke="#333333" stroke-width="1.5"/>
<rect x="485.41" y="127.60" width="5.38" height="24.60" fill="#b3b3b3" stroke="#333333" stroke-width="0.75"/>
<line x1="485.41" y1="142.60" x2="490.79" y2="142.60" stroke="#333333" stroke-width="1.5"/>
<rect x="492.59" y="128.10" width="5.38" height="24.00" fill="#b3b3b3" stroke="#333333" stroke-width="0.75"/>
<line x1="492.59" y1="140.20" x2="497.97" y2="140.20" stroke="#333333" stroke-width="1.5"/>
<rect x="499.77" y="123.60" width="5.38" height="32.40" fill="#b3b3b3" stroke="#333333" stroke-width="0.75"/>
<line x1="499.77" y1="138.10" x2="505.15" y2="138.10" stroke="#333333" stroke-width="1.5"/>
<rect x="506.95" y="112.70" width="5.38" height="30.60" fill="#b3b3b3" stroke="#333333" stroke-width="0.75"/>
<line x1="506.95" y1="128.60" x2="512.33" y2="128.60" stroke="#333333" stroke-width="1.5"/>
<rect x="514.13" y="109.40" width="5.38" height="36.60" fill="#b3b3b3" stroke="#333333" stroke-width="0.75"/>
<line x1="514.13" y1="129.20" x2="519.51" y2="129.20" stroke="#333333" stroke-width="1.5"/>
<rect x="521.31" y="120.40" width="5.38" height="28.80" fill="#b3b3b3" stroke="#333333" stroke-width="0.75"/>
<line x1="521.31" y1="133.20" x2="526.69" y2="133.20" stroke="#333333" stroke-width="1.5"/>
<rect x="528.49" y="115.90" width="5.38" height="34.00" fill="#b3b3b3" stroke="#333333" stroke-width="0.75"/>
<line x1="528.49" y1="133.20" x2="533.87" y2="133.20" stroke="#333333" stroke-width="1.5"/>
<rect x="535.67" y="107.60" width="5.38" height="33.50" fill="#b3b3b3" stroke="#333333" stroke-width="0.75"/>
<line x1="535.67" y1="123.00" x2="541.05" y2="123.00" stroke="#333333" stroke-width="1.5"/>
<rect x="542.85" y="116.30" width="5.38" height="31.10" fill="#b3b3b3" stroke="#333333" stroke-width="0.75"/>
<line x1="542.85" y1="131.20" x2="548.23" y2="131.20" stroke="#333333" stroke-width="1.5"/>
<rect x="550.03" y="122.70" width="5.38" height="26.50" fill="#b3b3b3" stroke="#333333" stroke-width="0.75"/>
<line x1="550.03" y1="136.80" x2="555.41" y2="136.80" stroke="#333333" stroke-width="1.5"/>
<rect x="557.21" y="111.40" width="5.38" height="35.70" fill="#b3b3b3" stroke="#333333" stroke-width="0.75"/>
<line x1="557.21" y1="129.50" x2="562.59" y2="129.50" stroke="#333333" stroke-width="1.5"/>
<rect x="564.39" y="108.50" width="5.38" height="34.40" fill="#b3b3b3" stroke="#333333" stroke-width="0.75"/>
<line x1="564.39" y1="127.20" x2="569.77" y2="127.20" stroke="#333333" stroke-width="1.5"/>
<rect x="571.57" y="107.60" width="5.38" height="31.20" fill="#b3b3b3" stroke="#333333" stroke-width="0.75"/>
<line x1="571.57" y1="125.90" x2="576.95" y2="125.90" stroke="#333333" stroke-width="1.5"/>
<rect x="578.75" y="104.90" width="5.38" height="39.10" fill="#b3b3b3" stroke="#333333" stroke-width="0.75"/>
<line x1="578.75" y1="126.60" x2="584.13" y2="126.60" stroke="#333333" stroke-width="1.5"/>
<rect x="585.93" y="103.20" width="5.38" height="38.60" fill="#b3b3b3" stroke="#333333" stroke-width="0.75"/>
<line x1="585.93" y1="125.70" x2="591.31" y2="125.70" stroke="#333333" stroke-width="1.5"/>
<rect x="593.11" y="107.60" width="5.38" height="34.80" fill="#b3b3b3" stroke="#333333" stroke-width="0.75"/>
<line x1="593.11" y1="128.10" x2="598.49" y2="128.10" stroke="#333333" stroke-width="1.5"/>
<rect x="600.29" y="107.20" width="5.38" height="32.00" fill="#b3b3b3" stroke="#333333" stroke-width="0.75"/>
<line x1="600.29" y1="129.00" x2="605.67" y2="129.00" stroke="#333333" stroke-width="1.5"/>
<rect x="607.47" y="112.70" width="5.38" height="28.80" fill="#b3b3b3" stroke="#333333" stroke-width="0.75"/>
<line x1="607.47" y1="128.40" x2="612.85" y2="128.40" stroke="#333333" stroke-width="1.5"/>
<rect x="614.65" y="106.30" width="5.38" height="32.70" fill="#b3b3b3" stroke="#333333" stroke-width="0.75"/>
<line x1="614.65" y1="122.30" x2="620.03" y2="122.30" stroke="#333333" stroke-width="1.5"/>
<rect x="621.83" y="91.40" width="5.38" height="36.20" fill="#b3b3b3" stroke="#333333" stroke-width="0.75"/>
<line x1="621.83" y1="108.70" x2="627.21" y2="108.70" stroke="#333333" stroke-width="1.5"/>
<rect x="629.01" y="94.10" width="5.38" height="43.90" fill="#b3b3b3" stroke="#333333" stroke-width="0.75"/>
<line x1="629.01" y1="117.20" x2="634.39" y2="117.20" stroke="#333333" stroke-width="1.5"/>
<rect x="636.19" y="102.30" width="5.38" height="32.90" fill="#b3b3b3" stroke="#333333" stroke-width="0.75"/>
<line x1="636.19" y1="117.60" x2="641.57" y2="117.60" stroke="#333333" stroke-width="1.5"/>
<rect x="643.37" y="108.70" width="5.38" height="30.10" fill="#b3b3b3" stroke="#333333" stroke-width="0.75"/>
<line x1="643.37" y1="126.60" x2="648.75" y2="126.60" stroke="#333333" stroke-width="1.5"/>
<rect x="650.55" y="102.70" width="5.38" height="32.40" fill="#b3b3b3" stroke="#333333" stroke-width="0.75"/>
<line x1="650.55" y1="117.60" x2="655.93" y2="117.60" stroke="#333333" stroke-width="1.5"/>
<rect x="657.73" y="96.30" width="5.38" height="38.00" fill="#b3b3b3" stroke="#333333" stroke-width="0.75"/>
<line x1="657.73" y1="115.70" x2="663.11" y2="115.70" stroke="#333333" stroke-width="1.5"/>
<rect x="664.91" y="100.50" width="5.38" height="33.70" fill="#b3b3b3" stroke="#333333" stroke-width="0.75"/>
<line x1="664.91" y1="119.40" x2="670.29" y2="119.40" stroke="#333333" stroke-width="1.5"/>
<circle cx="387.58" cy="45.10" r="1.45" fill="#7a7a7a" fill-opacity="0.42" stroke="#666666" stroke-opacity="0.5" stroke-width="0.6"/>
<circle cx="394.76" cy="77.80" r="1.45" fill="#7a7a7a" fill-opacity="0.42" stroke="#666666" stroke-opacity="0.5" stroke-width="0.6"/>
<circle cx="401.94" cy="80.80" r="1.45" fill="#7a7a7a" fill-opacity="0.42" stroke="#666666" stroke-opacity="0.5" stroke-width="0.6"/>
<circle cx="401.94" cy="83.30" r="1.45" fill="#7a7a7a" fill-opacity="0.42" stroke="#666666" stroke-opacity="0.5" stroke-width="0.6"/>
<circle cx="416.30" cy="85.90" r="1.45" fill="#7a7a7a" fill-opacity="0.42" stroke="#666666" stroke-opacity="0.5" stroke-width="0.6"/>
<circle cx="423.48" cy="60.80" r="1.45" fill="#7a7a7a" fill-opacity="0.42" stroke="#666666" stroke-opacity="0.5" stroke-width="0.6"/>
<circle cx="423.48" cy="60.80" r="1.45" fill="#7a7a7a" fill-opacity="0.42" stroke="#666666" stroke-opacity="0.5" stroke-width="0.6"/>
<circle cx="423.48" cy="76.70" r="1.45" fill="#7a7a7a" fill-opacity="0.42" stroke="#666666" stroke-opacity="0.5" stroke-width="0.6"/>
<circle cx="430.66" cy="49.00" r="1.45" fill="#7a7a7a" fill-opacity="0.42" stroke="#666666" stroke-opacity="0.5" stroke-width="0.6"/>
<circle cx="430.66" cy="71.00" r="1.45" fill="#7a7a7a" fill-opacity="0.42" stroke="#666666" stroke-opacity="0.5" stroke-width="0.6"/>
<circle cx="437.84" cy="49.00" r="1.45" fill="#7a7a7a" fill-opacity="0.42" stroke="#666666" stroke-opacity="0.5" stroke-width="0.6"/>
<circle cx="459.38" cy="75.10" r="1.45" fill="#7a7a7a" fill-opacity="0.42" stroke="#666666" stroke-opacity="0.5" stroke-width="0.6"/>
<circle cx="459.38" cy="75.10" r="1.45" fill="#7a7a7a" fill-opacity="0.42" stroke="#666666" stroke-opacity="0.5" stroke-width="0.6"/>
<circle cx="459.38" cy="86.70" r="1.45" fill="#7a7a7a" fill-opacity="0.42" stroke="#666666" stroke-opacity="0.5" stroke-width="0.6"/>
<circle cx="459.38" cy="86.70" r="1.45" fill="#7a7a7a" fill-opacity="0.42" stroke="#666666" stroke-opacity="0.5" stroke-width="0.6"/>
<circle cx="480.92" cy="76.50" r="1.45" fill="#7a7a7a" fill-opacity="0.42" stroke="#666666" stroke-opacity="0.5" stroke-width="0.6"/>
<circle cx="480.92" cy="85.70" r="1.45" fill="#7a7a7a" fill-opacity="0.42" stroke="#666666" stroke-opacity="0.5" stroke-width="0.6"/>
<circle cx="480.92" cy="88.40" r="1.45" fill="#7a7a7a" fill-opacity="0.42" stroke="#666666" stroke-opacity="0.5" stroke-width="0.6"/>
<circle cx="488.10" cy="72.40" r="1.45" fill="#7a7a7a" fill-opacity="0.42" stroke="#666666" stroke-opacity="0.5" stroke-width="0.6"/>
<circle cx="488.10" cy="80.20" r="1.45" fill="#7a7a7a" fill-opacity="0.42" stroke="#666666" stroke-opacity="0.5" stroke-width="0.6"/>
<circle cx="488.10" cy="83.90" r="1.45" fill="#7a7a7a" fill-opacity="0.42" stroke="#666666" stroke-opacity="0.5" stroke-width="0.6"/>
<circle cx="495.28" cy="75.50" r="1.45" fill="#7a7a7a" fill-opacity="0.42" stroke="#666666" stroke-opacity="0.5" stroke-width="0.6"/>
<circle cx="509.64" cy="37.80" r="1.45" fill="#7a7a7a" fill-opacity="0.42" stroke="#666666" stroke-opacity="0.5" stroke-width="0.6"/>
<circle cx="509.64" cy="62.40" r="1.45" fill="#7a7a7a" fill-opacity="0.42" stroke="#666666" stroke-opacity="0.5" stroke-width="0.6"/>
<circle cx="509.64" cy="65.90" r="1.45" fill="#7a7a7a" fill-opacity="0.42" stroke="#666666" stroke-opacity="0.5" stroke-width="0.6"/>
<circle cx="524.00" cy="62.40" r="1.45" fill="#7a7a7a" fill-opacity="0.42" stroke="#666666" stroke-opacity="0.5" stroke-width="0.6"/>
<circle cx="545.54" cy="23.50" r="1.45" fill="#7a7a7a" fill-opacity="0.42" stroke="#666666" stroke-opacity="0.5" stroke-width="0.6"/>
<circle cx="545.54" cy="59.80" r="1.45" fill="#7a7a7a" fill-opacity="0.42" stroke="#666666" stroke-opacity="0.5" stroke-width="0.6"/>
<circle cx="567.08" cy="50.60" r="1.45" fill="#7a7a7a" fill-opacity="0.42" stroke="#666666" stroke-opacity="0.5" stroke-width="0.6"/>
<circle cx="574.26" cy="55.10" r="1.45" fill="#7a7a7a" fill-opacity="0.42" stroke="#666666" stroke-opacity="0.5" stroke-width="0.6"/>
<circle cx="581.44" cy="33.30" r="1.45" fill="#7a7a7a" fill-opacity="0.42" stroke="#666666" stroke-opacity="0.5" stroke-width="0.6"/>
<circle cx="610.16" cy="62.20" r="1.45" fill="#7a7a7a" fill-opacity="0.42" stroke="#666666" stroke-opacity="0.5" stroke-width="0.6"/>
<circle cx="610.16" cy="66.70" r="1.45" fill="#7a7a7a" fill-opacity="0.42" stroke="#666666" stroke-opacity="0.5" stroke-width="0.6"/>
<circle cx="617.34" cy="50.20" r="1.45" fill="#7a7a7a" fill-opacity="0.42" stroke="#666666" stroke-opacity="0.5" stroke-width="0.6"/>
<circle cx="617.34" cy="54.70" r="1.45" fill="#7a7a7a" fill-opacity="0.42" stroke="#666666" stroke-opacity="0.5" stroke-width="0.6"/>
<circle cx="646.06" cy="48.00" r="1.45" fill="#7a7a7a" fill-opacity="0.42" stroke="#666666" stroke-opacity="0.5" stroke-width="0.6"/>
<circle cx="646.06" cy="52.70" r="1.45" fill="#7a7a7a" fill-opacity="0.42" stroke="#666666" stroke-opacity="0.5" stroke-width="0.6"/>
<circle cx="646.06" cy="58.40" r="1.45" fill="#7a7a7a" fill-opacity="0.42" stroke="#666666" stroke-opacity="0.5" stroke-width="0.6"/>
<circle cx="646.06" cy="58.40" r="1.45" fill="#7a7a7a" fill-opacity="0.42" stroke="#666666" stroke-opacity="0.5" stroke-width="0.6"/>
<circle cx="653.24" cy="36.30" r="1.45" fill="#7a7a7a" fill-opacity="0.42" stroke="#666666" stroke-opacity="0.5" stroke-width="0.6"/>
<circle cx="660.42" cy="34.90" r="1.45" fill="#7a7a7a" fill-opacity="0.42" stroke="#666666" stroke-opacity="0.5" stroke-width="0.6"/>
<circle cx="667.60" cy="44.90" r="1.45" fill="#7a7a7a" fill-opacity="0.42" stroke="#666666" stroke-opacity="0.5" stroke-width="0.6"/>
<circle cx="667.60" cy="44.90" r="1.45" fill="#7a7a7a" fill-opacity="0.42" stroke="#666666" stroke-opacity="0.5" stroke-width="0.6"/>
<path d="M384.48 121.90L390.68 128.10M384.48 128.10L390.68 121.90" stroke="#0000ff" stroke-width="1.5" fill="none"/>
<path d="M391.66 106.90L397.86 113.10M391.66 113.10L397.86 106.90" stroke="#0000ff" stroke-width="1.5" fill="none"/>
<path d="M398.84 137.10L405.04 143.30M398.84 143.30L405.04 137.10" stroke="#0000ff" stroke-width="1.5" fill="none"/>
<path d="M406.02 151.80L412.22 158.00M406.02 158.00L412.22 151.80" stroke="#0000ff" stroke-width="1.5" fill="none"/>
<path d="M413.20 161.80L419.40 168.00M413.20 168.00L419.40 161.80" stroke="#0000ff" stroke-width="1.5" fill="none"/>
<path d="M420.38 120.50L426.58 126.70M420.38 126.70L426.58 120.50" stroke="#0000ff" stroke-width="1.5" fill="none"/>
<path d="M427.56 146.80L433.76 153.00M427.56 153.00L433.76 146.80" stroke="#0000ff" stroke-width="1.5" fill="none"/>
<path d="M434.74 141.70L440.94 147.90M434.74 147.90L440.94 141.70" stroke="#0000ff" stroke-width="1.5" fill="none"/>
<path d="M441.92 153.10L448.12 159.30M441.92 159.30L448.12 153.10" stroke="#0000ff" stroke-width="1.5" fill="none"/>
<path d="M449.10 160.20L455.30 166.40M449.10 166.40L455.30 160.20" stroke="#0000ff" stroke-width="1.5" fill="none"/>
<path d="M456.28 164.90L462.48 171.10M456.28 171.10L462.48 164.90" stroke="#0000ff" stroke-width="1.5" fill="none"/>
<path d="M463.46 134.10L469.66 140.30M463.46 140.30L469.66 134.10" stroke="#0000ff" stroke-width="1.5" fill="none"/>
<path d="M470.64 145.50L476.84 151.70M470.64 151.70L476.84 145.50" stroke="#0000ff" stroke-width="1.5" fill="none"/>
<path d="M477.82 99.00L484.02 105.20M477.82 105.20L484.02 99.00" stroke="#0000ff" stroke-width="1.5" fill="none"/>
<path d="M485.00 139.50L491.20 145.70M485.00 145.70L491.20 139.50" stroke="#0000ff" stroke-width="1.5" fill="none"/>
<path d="M492.18 149.90L498.38 156.10M492.18 156.10L498.38 149.90" stroke="#0000ff" stroke-width="1.5" fill="none"/>
<path d="M499.36 129.00L505.56 135.20M499.36 135.20L505.56 129.00" stroke="#0000ff" stroke-width="1.5" fill="none"/>
<path d="M506.54 154.60L512.74 160.80M506.54 160.80L512.74 154.60" stroke="#0000ff" stroke-width="1.5" fill="none"/>
<path d="M513.72 154.00L519.92 160.20M513.72 160.20L519.92 154.00" stroke="#0000ff" stroke-width="1.5" fill="none"/>
<path d="M520.90 112.60L527.10 118.80M520.90 118.80L527.10 112.60" stroke="#0000ff" stroke-width="1.5" fill="none"/>
<path d="M528.08 102.90L534.28 109.10M528.08 109.10L534.28 102.90" stroke="#0000ff" stroke-width="1.5" fill="none"/>
<path d="M535.26 147.70L541.46 153.90M535.26 153.90L541.46 147.70" stroke="#0000ff" stroke-width="1.5" fill="none"/>
<path d="M542.44 156.70L548.64 162.90M542.44 162.90L548.64 156.70" stroke="#0000ff" stroke-width="1.5" fill="none"/>
<path d="M549.62 120.10L555.82 126.30M549.62 126.30L555.82 120.10" stroke="#0000ff" stroke-width="1.5" fill="none"/>
<path d="M556.80 117.40L563.00 123.60M556.80 123.60L563.00 117.40" stroke="#0000ff" stroke-width="1.5" fill="none"/>
<path d="M563.98 120.50L570.18 126.70M563.98 126.70L570.18 120.50" stroke="#0000ff" stroke-width="1.5" fill="none"/>
<path d="M571.16 92.30L577.36 98.50M571.16 98.50L577.36 92.30" stroke="#0000ff" stroke-width="1.5" fill="none"/>
<path d="M578.34 112.30L584.54 118.50M578.34 118.50L584.54 112.30" stroke="#0000ff" stroke-width="1.5" fill="none"/>
<path d="M585.52 137.70L591.72 143.90M585.52 143.90L591.72 137.70" stroke="#0000ff" stroke-width="1.5" fill="none"/>
<path d="M592.70 149.90L598.90 156.10M592.70 156.10L598.90 149.90" stroke="#0000ff" stroke-width="1.5" fill="none"/>
<path d="M599.88 117.70L606.08 123.90M599.88 123.90L606.08 117.70" stroke="#0000ff" stroke-width="1.5" fill="none"/>
<path d="M607.06 112.80L613.26 119.00M607.06 119.00L613.26 112.80" stroke="#0000ff" stroke-width="1.5" fill="none"/>
<path d="M614.24 114.10L620.44 120.30M614.24 120.30L620.44 114.10" stroke="#0000ff" stroke-width="1.5" fill="none"/>
<path d="M621.42 120.40L627.62 126.60M621.42 126.60L627.62 120.40" stroke="#0000ff" stroke-width="1.5" fill="none"/>
<path d="M628.60 133.10L634.80 139.30M628.60 139.30L634.80 133.10" stroke="#0000ff" stroke-width="1.5" fill="none"/>
<path d="M635.78 142.60L641.98 148.80M635.78 148.80L641.98 142.60" stroke="#0000ff" stroke-width="1.5" fill="none"/>
<path d="M642.96 87.70L649.16 93.90M642.96 93.90L649.16 87.70" stroke="#0000ff" stroke-width="1.5" fill="none"/>
<path d="M650.14 110.50L656.34 116.70M650.14 116.70L656.34 110.50" stroke="#0000ff" stroke-width="1.5" fill="none"/>
<path d="M657.32 115.00L663.52 121.20M657.32 121.20L663.52 115.00" stroke="#0000ff" stroke-width="1.5" fill="none"/>
<path d="M664.50 105.90L670.70 112.10M664.50 112.10L670.70 105.90" stroke="#0000ff" stroke-width="1.5" fill="none"/>
<line x1="370.70" y1="15.40" x2="370.70" y2="201.80" stroke="#333333" stroke-width="1.2"/>
<line x1="370.20" y1="201.30" x2="684.60" y2="201.30" stroke="#333333" stroke-width="1.2"/>
<line x1="368.50" y1="51.70" x2="370.70" y2="51.70" stroke="#333333" stroke-width="1.07"/>
<text transform="translate(366.40,54.25) scale(1.13,1)" text-anchor="end" font-size="7.1" fill="#4d4d4d">20</text>
<line x1="368.50" y1="89.10" x2="370.70" y2="89.10" stroke="#333333" stroke-width="1.07"/>
<text transform="translate(366.40,91.65) scale(1.13,1)" text-anchor="end" font-size="7.1" fill="#4d4d4d">15</text>
<line x1="368.50" y1="126.50" x2="370.70" y2="126.50" stroke="#333333" stroke-width="1.07"/>
<text transform="translate(366.40,129.05) scale(1.13,1)" text-anchor="end" font-size="7.1" fill="#4d4d4d">10</text>
<line x1="368.50" y1="163.90" x2="370.70" y2="163.90" stroke="#333333" stroke-width="1.07"/>
<text transform="translate(366.40,166.45) scale(1.13,1)" text-anchor="end" font-size="7.1" fill="#4d4d4d">5</text>
<line x1="368.50" y1="201.30" x2="370.70" y2="201.30" stroke="#333333" stroke-width="1.07"/>
<text transform="translate(366.40,203.85) scale(1.13,1)" text-anchor="end" font-size="7.1" fill="#4d4d4d">0</text>
<line x1="380.40" y1="201.30" x2="380.40" y2="203.50" stroke="#333333" stroke-width="1.07"/>
<text transform="translate(380.40,210.50) scale(1.05,1)" text-anchor="middle" font-size="7.8" fill="#4d4d4d">1980</text>
<line x1="452.20" y1="201.30" x2="452.20" y2="203.50" stroke="#333333" stroke-width="1.07"/>
<text transform="translate(452.20,210.50) scale(1.05,1)" text-anchor="middle" font-size="7.8" fill="#4d4d4d">1990</text>
<line x1="524.00" y1="201.30" x2="524.00" y2="203.50" stroke="#333333" stroke-width="1.07"/>
<text transform="translate(524.00,210.50) scale(1.05,1)" text-anchor="middle" font-size="7.8" fill="#4d4d4d">2000</text>
<line x1="595.80" y1="201.30" x2="595.80" y2="203.50" stroke="#333333" stroke-width="1.07"/>
<text transform="translate(595.80,210.50) scale(1.05,1)" text-anchor="middle" font-size="7.8" fill="#4d4d4d">2010</text>
<line x1="667.60" y1="201.30" x2="667.60" y2="203.50" stroke="#333333" stroke-width="1.07"/>
<text transform="translate(667.60,210.50) scale(1.05,1)" text-anchor="middle" font-size="7.8" fill="#4d4d4d">2020</text>
<text transform="translate(352.30,108.20) rotate(-90)" text-anchor="middle" font-size="8.4" stroke="#000" stroke-width="0.05" fill="#000" textLength="50.2" lengthAdjust="spacingAndGlyphs">Stress days</text>
<path d="M415.90 15.30L421.90 21.30M415.90 21.30L421.90 15.30" stroke="#0000ff" stroke-width="1.5" fill="none"/>
<text x="430.00" y="21.05" font-size="7.1" fill="#1a1a1a" stroke="#1a1a1a" stroke-width="0.12">OBS</text>
<line x1="418.90" y1="26.20" x2="418.90" y2="37.40" stroke="#333333" stroke-width="1.0"/>
<rect x="413.60" y="28.30" width="10.6" height="7.2" fill="#b3b3b3" stroke="#333333" stroke-width="0.9"/>
<line x1="413.60" y1="31.90" x2="424.20" y2="31.90" stroke="#333333" stroke-width="1.1"/>
<text x="430.00" y="34.30" font-size="7.1" fill="#1a1a1a" stroke="#1a1a1a" stroke-width="0.12">UNSEEN</text>
<text x="347.00" y="8.40" font-size="12.5" font-weight="bold" fill="#000">b</text>
<line x1="36.69" y1="362.50" x2="36.69" y2="392.20" stroke="#333333" stroke-width="1.1"/>
<line x1="36.69" y1="413.00" x2="36.69" y2="423.00" stroke="#333333" stroke-width="1.1"/>
<line x1="43.98" y1="357.70" x2="43.98" y2="392.20" stroke="#333333" stroke-width="1.1"/>
<line x1="43.98" y1="416.40" x2="43.98" y2="423.30" stroke="#333333" stroke-width="1.1"/>
<line x1="51.27" y1="368.00" x2="51.27" y2="395.40" stroke="#333333" stroke-width="1.1"/>
<line x1="51.27" y1="415.10" x2="51.27" y2="423.00" stroke="#333333" stroke-width="1.1"/>
<line x1="58.56" y1="357.50" x2="58.56" y2="389.70" stroke="#333333" stroke-width="1.1"/>
<line x1="58.56" y1="413.00" x2="58.56" y2="423.30" stroke="#333333" stroke-width="1.1"/>
<line x1="65.85" y1="383.70" x2="65.85" y2="403.50" stroke="#333333" stroke-width="1.1"/>
<line x1="65.85" y1="418.50" x2="65.85" y2="423.00" stroke="#333333" stroke-width="1.1"/>
<line x1="73.14" y1="355.00" x2="73.14" y2="393.00" stroke="#333333" stroke-width="1.1"/>
<line x1="73.14" y1="417.20" x2="73.14" y2="423.30" stroke="#333333" stroke-width="1.1"/>
<line x1="80.43" y1="360.20" x2="80.43" y2="388.30" stroke="#333333" stroke-width="1.1"/>
<line x1="80.43" y1="413.20" x2="80.43" y2="423.00" stroke="#333333" stroke-width="1.1"/>
<line x1="87.72" y1="347.60" x2="87.72" y2="384.60" stroke="#333333" stroke-width="1.1"/>
<line x1="87.72" y1="409.50" x2="87.72" y2="423.00" stroke="#333333" stroke-width="1.1"/>
<line x1="95.01" y1="352.80" x2="95.01" y2="387.30" stroke="#333333" stroke-width="1.1"/>
<line x1="95.01" y1="412.10" x2="95.01" y2="423.00" stroke="#333333" stroke-width="1.1"/>
<line x1="102.30" y1="357.30" x2="102.30" y2="392.10" stroke="#333333" stroke-width="1.1"/>
<line x1="102.30" y1="416.10" x2="102.30" y2="423.00" stroke="#333333" stroke-width="1.1"/>
<line x1="109.59" y1="363.00" x2="109.59" y2="391.60" stroke="#333333" stroke-width="1.1"/>
<line x1="109.59" y1="413.40" x2="109.59" y2="423.00" stroke="#333333" stroke-width="1.1"/>
<line x1="116.88" y1="359.60" x2="116.88" y2="391.30" stroke="#333333" stroke-width="1.1"/>
<line x1="116.88" y1="416.70" x2="116.88" y2="423.00" stroke="#333333" stroke-width="1.1"/>
<line x1="124.17" y1="361.00" x2="124.17" y2="392.60" stroke="#333333" stroke-width="1.1"/>
<line x1="124.17" y1="412.10" x2="124.17" y2="423.00" stroke="#333333" stroke-width="1.1"/>
<line x1="131.46" y1="374.00" x2="131.46" y2="397.60" stroke="#333333" stroke-width="1.1"/>
<line x1="131.46" y1="414.50" x2="131.46" y2="423.00" stroke="#333333" stroke-width="1.1"/>
<line x1="138.75" y1="371.90" x2="138.75" y2="398.00" stroke="#333333" stroke-width="1.1"/>
<line x1="138.75" y1="416.30" x2="138.75" y2="423.00" stroke="#333333" stroke-width="1.1"/>
<line x1="146.04" y1="365.90" x2="146.04" y2="396.40" stroke="#333333" stroke-width="1.1"/>
<line x1="146.04" y1="418.00" x2="146.04" y2="423.00" stroke="#333333" stroke-width="1.1"/>
<line x1="153.33" y1="366.80" x2="153.33" y2="395.80" stroke="#333333" stroke-width="1.1"/>
<line x1="153.33" y1="415.80" x2="153.33" y2="423.00" stroke="#333333" stroke-width="1.1"/>
<line x1="160.62" y1="322.60" x2="160.62" y2="375.30" stroke="#333333" stroke-width="1.1"/>
<line x1="160.62" y1="412.10" x2="160.62" y2="423.00" stroke="#333333" stroke-width="1.1"/>
<line x1="167.91" y1="341.30" x2="167.91" y2="383.10" stroke="#333333" stroke-width="1.1"/>
<line x1="167.91" y1="411.20" x2="167.91" y2="423.00" stroke="#333333" stroke-width="1.1"/>
<line x1="175.20" y1="356.30" x2="175.20" y2="390.70" stroke="#333333" stroke-width="1.1"/>
<line x1="175.20" y1="414.00" x2="175.20" y2="423.00" stroke="#333333" stroke-width="1.1"/>
<line x1="182.49" y1="348.60" x2="182.49" y2="384.40" stroke="#333333" stroke-width="1.1"/>
<line x1="182.49" y1="413.00" x2="182.49" y2="423.00" stroke="#333333" stroke-width="1.1"/>
<line x1="189.78" y1="320.60" x2="189.78" y2="372.60" stroke="#333333" stroke-width="1.1"/>
<line x1="189.78" y1="407.60" x2="189.78" y2="420.00" stroke="#333333" stroke-width="1.1"/>
<line x1="197.07" y1="331.10" x2="197.07" y2="380.00" stroke="#333333" stroke-width="1.1"/>
<line x1="197.07" y1="413.40" x2="197.07" y2="423.00" stroke="#333333" stroke-width="1.1"/>
<line x1="204.36" y1="354.30" x2="204.36" y2="389.50" stroke="#333333" stroke-width="1.1"/>
<line x1="204.36" y1="414.90" x2="204.36" y2="423.00" stroke="#333333" stroke-width="1.1"/>
<line x1="211.65" y1="331.30" x2="211.65" y2="376.40" stroke="#333333" stroke-width="1.1"/>
<line x1="211.65" y1="412.10" x2="211.65" y2="423.00" stroke="#333333" stroke-width="1.1"/>
<line x1="218.94" y1="358.00" x2="218.94" y2="385.50" stroke="#333333" stroke-width="1.1"/>
<line x1="218.94" y1="407.60" x2="218.94" y2="423.00" stroke="#333333" stroke-width="1.1"/>
<line x1="226.23" y1="334.30" x2="226.23" y2="379.50" stroke="#333333" stroke-width="1.1"/>
<line x1="226.23" y1="409.10" x2="226.23" y2="423.00" stroke="#333333" stroke-width="1.1"/>
<line x1="233.52" y1="318.90" x2="233.52" y2="372.60" stroke="#333333" stroke-width="1.1"/>
<line x1="233.52" y1="412.10" x2="233.52" y2="423.00" stroke="#333333" stroke-width="1.1"/>
<line x1="240.81" y1="341.10" x2="240.81" y2="376.00" stroke="#333333" stroke-width="1.1"/>
<line x1="240.81" y1="408.30" x2="240.81" y2="423.00" stroke="#333333" stroke-width="1.1"/>
<line x1="248.10" y1="325.60" x2="248.10" y2="368.80" stroke="#333333" stroke-width="1.1"/>
<line x1="248.10" y1="408.20" x2="248.10" y2="423.00" stroke="#333333" stroke-width="1.1"/>
<line x1="255.39" y1="325.60" x2="255.39" y2="372.50" stroke="#333333" stroke-width="1.1"/>
<line x1="255.39" y1="407.60" x2="255.39" y2="423.00" stroke="#333333" stroke-width="1.1"/>
<line x1="262.68" y1="345.10" x2="262.68" y2="378.00" stroke="#333333" stroke-width="1.1"/>
<line x1="262.68" y1="408.60" x2="262.68" y2="423.00" stroke="#333333" stroke-width="1.1"/>
<line x1="269.97" y1="305.20" x2="269.97" y2="364.30" stroke="#333333" stroke-width="1.1"/>
<line x1="269.97" y1="405.10" x2="269.97" y2="420.40" stroke="#333333" stroke-width="1.1"/>
<line x1="277.26" y1="301.20" x2="277.26" y2="355.60" stroke="#333333" stroke-width="1.1"/>
<line x1="277.26" y1="397.00" x2="277.26" y2="419.80" stroke="#333333" stroke-width="1.1"/>
<line x1="284.55" y1="303.70" x2="284.55" y2="363.30" stroke="#333333" stroke-width="1.1"/>
<line x1="284.55" y1="404.10" x2="284.55" y2="423.00" stroke="#333333" stroke-width="1.1"/>
<line x1="291.84" y1="329.30" x2="291.84" y2="373.50" stroke="#333333" stroke-width="1.1"/>
<line x1="291.84" y1="404.10" x2="291.84" y2="423.00" stroke="#333333" stroke-width="1.1"/>
<line x1="299.13" y1="334.30" x2="299.13" y2="380.20" stroke="#333333" stroke-width="1.1"/>
<line x1="299.13" y1="411.30" x2="299.13" y2="423.00" stroke="#333333" stroke-width="1.1"/>
<line x1="306.42" y1="323.90" x2="306.42" y2="371.50" stroke="#333333" stroke-width="1.1"/>
<line x1="306.42" y1="408.20" x2="306.42" y2="423.00" stroke="#333333" stroke-width="1.1"/>
<line x1="313.71" y1="326.40" x2="313.71" y2="372.50" stroke="#333333" stroke-width="1.1"/>
<line x1="313.71" y1="406.20" x2="313.71" y2="423.00" stroke="#333333" stroke-width="1.1"/>
<line x1="321.00" y1="314.40" x2="321.00" y2="369.80" stroke="#333333" stroke-width="1.1"/>
<line x1="321.00" y1="409.80" x2="321.00" y2="423.00" stroke="#333333" stroke-width="1.1"/>
<rect x="33.96" y="392.20" width="5.47" height="20.80" fill="#b3b3b3" stroke="#333333" stroke-width="0.75"/>
<line x1="33.96" y1="403.00" x2="39.42" y2="403.00" stroke="#333333" stroke-width="1.5"/>
<rect x="41.25" y="392.20" width="5.47" height="24.20" fill="#b3b3b3" stroke="#333333" stroke-width="0.75"/>
<line x1="41.25" y1="408.50" x2="46.71" y2="408.50" stroke="#333333" stroke-width="1.5"/>
<rect x="48.54" y="395.40" width="5.47" height="19.70" fill="#b3b3b3" stroke="#333333" stroke-width="0.75"/>
<line x1="48.54" y1="409.80" x2="54.00" y2="409.80" stroke="#333333" stroke-width="1.5"/>
<rect x="55.83" y="389.70" width="5.47" height="23.30" fill="#b3b3b3" stroke="#333333" stroke-width="0.75"/>
<line x1="55.83" y1="403.60" x2="61.29" y2="403.60" stroke="#333333" stroke-width="1.5"/>
<rect x="63.12" y="403.50" width="5.47" height="15.00" fill="#b3b3b3" stroke="#333333" stroke-width="0.75"/>
<line x1="63.12" y1="412.50" x2="68.58" y2="412.50" stroke="#333333" stroke-width="1.5"/>
<rect x="70.41" y="393.00" width="5.47" height="24.20" fill="#b3b3b3" stroke="#333333" stroke-width="0.75"/>
<line x1="70.41" y1="408.30" x2="75.87" y2="408.30" stroke="#333333" stroke-width="1.5"/>
<rect x="77.70" y="388.30" width="5.47" height="24.90" fill="#b3b3b3" stroke="#333333" stroke-width="0.75"/>
<line x1="77.70" y1="404.20" x2="83.16" y2="404.20" stroke="#333333" stroke-width="1.5"/>
<rect x="84.99" y="384.60" width="5.47" height="24.90" fill="#b3b3b3" stroke="#333333" stroke-width="0.75"/>
<line x1="84.99" y1="397.10" x2="90.45" y2="397.10" stroke="#333333" stroke-width="1.5"/>
<rect x="92.28" y="387.30" width="5.47" height="24.80" fill="#b3b3b3" stroke="#333333" stroke-width="0.75"/>
<line x1="92.28" y1="401.80" x2="97.74" y2="401.80" stroke="#333333" stroke-width="1.5"/>
<rect x="99.57" y="392.10" width="5.47" height="24.00" fill="#b3b3b3" stroke="#333333" stroke-width="0.75"/>
<line x1="99.57" y1="406.10" x2="105.03" y2="406.10" stroke="#333333" stroke-width="1.5"/>
<rect x="106.86" y="391.60" width="5.47" height="21.80" fill="#b3b3b3" stroke="#333333" stroke-width="0.75"/>
<line x1="106.86" y1="405.80" x2="112.32" y2="405.80" stroke="#333333" stroke-width="1.5"/>
<rect x="114.15" y="391.30" width="5.47" height="25.40" fill="#b3b3b3" stroke="#333333" stroke-width="0.75"/>
<line x1="114.15" y1="406.20" x2="119.61" y2="406.20" stroke="#333333" stroke-width="1.5"/>
<rect x="121.44" y="392.60" width="5.47" height="19.50" fill="#b3b3b3" stroke="#333333" stroke-width="0.75"/>
<line x1="121.44" y1="407.60" x2="126.90" y2="407.60" stroke="#333333" stroke-width="1.5"/>
<rect x="128.73" y="397.60" width="5.47" height="16.90" fill="#b3b3b3" stroke="#333333" stroke-width="0.75"/>
<line x1="128.73" y1="409.40" x2="134.19" y2="409.40" stroke="#333333" stroke-width="1.5"/>
<rect x="136.02" y="398.00" width="5.47" height="18.30" fill="#b3b3b3" stroke="#333333" stroke-width="0.75"/>
<line x1="136.02" y1="406.70" x2="141.48" y2="406.70" stroke="#333333" stroke-width="1.5"/>
<rect x="143.31" y="396.40" width="5.47" height="21.60" fill="#b3b3b3" stroke="#333333" stroke-width="0.75"/>
<line x1="143.31" y1="405.20" x2="148.77" y2="405.20" stroke="#333333" stroke-width="1.5"/>
<rect x="150.60" y="395.80" width="5.47" height="20.00" fill="#b3b3b3" stroke="#333333" stroke-width="0.75"/>
<line x1="150.60" y1="408.50" x2="156.06" y2="408.50" stroke="#333333" stroke-width="1.5"/>
<rect x="157.89" y="375.30" width="5.47" height="36.80" fill="#b3b3b3" stroke="#333333" stroke-width="0.75"/>
<line x1="157.89" y1="397.10" x2="163.35" y2="397.10" stroke="#333333" stroke-width="1.5"/>
<rect x="165.18" y="383.10" width="5.47" height="28.10" fill="#b3b3b3" stroke="#333333" stroke-width="0.75"/>
<line x1="165.18" y1="398.00" x2="170.64" y2="398.00" stroke="#333333" stroke-width="1.5"/>
<rect x="172.47" y="390.70" width="5.47" height="23.30" fill="#b3b3b3" stroke="#333333" stroke-width="0.75"/>
<line x1="172.47" y1="403.60" x2="177.93" y2="403.60" stroke="#333333" stroke-width="1.5"/>
<rect x="179.76" y="384.40" width="5.47" height="28.60" fill="#b3b3b3" stroke="#333333" stroke-width="0.75"/>
<line x1="179.76" y1="401.60" x2="185.22" y2="401.60" stroke="#333333" stroke-width="1.5"/>
<rect x="187.05" y="372.60" width="5.47" height="35.00" fill="#b3b3b3" stroke="#333333" stroke-width="0.75"/>
<line x1="187.05" y1="397.60" x2="192.51" y2="397.60" stroke="#333333" stroke-width="1.5"/>
<rect x="194.34" y="380.00" width="5.47" height="33.40" fill="#b3b3b3" stroke="#333333" stroke-width="0.75"/>
<line x1="194.34" y1="399.80" x2="199.80" y2="399.80" stroke="#333333" stroke-width="1.5"/>
<rect x="201.63" y="389.50" width="5.47" height="25.40" fill="#b3b3b3" stroke="#333333" stroke-width="0.75"/>
<line x1="201.63" y1="405.80" x2="207.09" y2="405.80" stroke="#333333" stroke-width="1.5"/>
<rect x="208.92" y="376.40" width="5.47" height="35.70" fill="#b3b3b3" stroke="#333333" stroke-width="0.75"/>
<line x1="208.92" y1="400.00" x2="214.38" y2="400.00" stroke="#333333" stroke-width="1.5"/>
<rect x="216.21" y="385.50" width="5.47" height="22.10" fill="#b3b3b3" stroke="#333333" stroke-width="0.75"/>
<line x1="216.21" y1="395.30" x2="221.67" y2="395.30" stroke="#333333" stroke-width="1.5"/>
<rect x="223.50" y="379.50" width="5.47" height="29.60" fill="#b3b3b3" stroke="#333333" stroke-width="0.75"/>
<line x1="223.50" y1="395.80" x2="228.96" y2="395.80" stroke="#333333" stroke-width="1.5"/>
<rect x="230.79" y="372.60" width="5.47" height="39.50" fill="#b3b3b3" stroke="#333333" stroke-width="0.75"/>
<line x1="230.79" y1="395.30" x2="236.25" y2="395.30" stroke="#333333" stroke-width="1.5"/>
<rect x="238.08" y="376.00" width="5.47" height="32.30" fill="#b3b3b3" stroke="#333333" stroke-width="0.75"/>
<line x1="238.08" y1="394.00" x2="243.54" y2="394.00" stroke="#333333" stroke-width="1.5"/>
<rect x="245.37" y="368.80" width="5.47" height="39.40" fill="#b3b3b3" stroke="#333333" stroke-width="0.75"/>
<line x1="245.37" y1="395.30" x2="250.83" y2="395.30" stroke="#333333" stroke-width="1.5"/>
<rect x="252.66" y="372.50" width="5.47" height="35.10" fill="#b3b3b3" stroke="#333333" stroke-width="0.75"/>
<line x1="252.66" y1="396.40" x2="258.12" y2="396.40" stroke="#333333" stroke-width="1.5"/>
<rect x="259.95" y="378.00" width="5.47" height="30.60" fill="#b3b3b3" stroke="#333333" stroke-width="0.75"/>
<line x1="259.95" y1="395.60" x2="265.41" y2="395.60" stroke="#333333" stroke-width="1.5"/>
<rect x="267.24" y="364.30" width="5.47" height="40.80" fill="#b3b3b3" stroke="#333333" stroke-width="0.75"/>
<line x1="267.24" y1="391.30" x2="272.70" y2="391.30" stroke="#333333" stroke-width="1.5"/>
<rect x="274.53" y="355.60" width="5.47" height="41.40" fill="#b3b3b3" stroke="#333333" stroke-width="0.75"/>
<line x1="274.53" y1="382.70" x2="279.99" y2="382.70" stroke="#333333" stroke-width="1.5"/>
<rect x="281.82" y="363.30" width="5.47" height="40.80" fill="#b3b3b3" stroke="#333333" stroke-width="0.75"/>
<line x1="281.82" y1="386.40" x2="287.28" y2="386.40" stroke="#333333" stroke-width="1.5"/>
<rect x="289.11" y="373.50" width="5.47" height="30.60" fill="#b3b3b3" stroke="#333333" stroke-width="0.75"/>
<line x1="289.11" y1="389.40" x2="294.57" y2="389.40" stroke="#333333" stroke-width="1.5"/>
<rect x="296.40" y="380.20" width="5.47" height="31.10" fill="#b3b3b3" stroke="#333333" stroke-width="0.75"/>
<line x1="296.40" y1="399.60" x2="301.86" y2="399.60" stroke="#333333" stroke-width="1.5"/>
<rect x="303.69" y="371.50" width="5.47" height="36.70" fill="#b3b3b3" stroke="#333333" stroke-width="0.75"/>
<line x1="303.69" y1="391.50" x2="309.15" y2="391.50" stroke="#333333" stroke-width="1.5"/>
<rect x="310.98" y="372.50" width="5.47" height="33.70" fill="#b3b3b3" stroke="#333333" stroke-width="0.75"/>
<line x1="310.98" y1="387.80" x2="316.44" y2="387.80" stroke="#333333" stroke-width="1.5"/>
<rect x="318.27" y="369.80" width="5.47" height="40.00" fill="#b3b3b3" stroke="#333333" stroke-width="0.75"/>
<line x1="318.27" y1="395.30" x2="323.73" y2="395.30" stroke="#333333" stroke-width="1.5"/>
<circle cx="36.69" cy="290.90" r="1.45" fill="#7a7a7a" fill-opacity="0.42" stroke="#666666" stroke-opacity="0.5" stroke-width="0.6"/>
<circle cx="36.69" cy="329.40" r="1.45" fill="#7a7a7a" fill-opacity="0.42" stroke="#666666" stroke-opacity="0.5" stroke-width="0.6"/>
<circle cx="43.98" cy="338.00" r="1.45" fill="#7a7a7a" fill-opacity="0.42" stroke="#666666" stroke-opacity="0.5" stroke-width="0.6"/>
<circle cx="43.98" cy="349.80" r="1.45" fill="#7a7a7a" fill-opacity="0.42" stroke="#666666" stroke-opacity="0.5" stroke-width="0.6"/>
<circle cx="43.98" cy="353.20" r="1.45" fill="#7a7a7a" fill-opacity="0.42" stroke="#666666" stroke-opacity="0.5" stroke-width="0.6"/>
<circle cx="51.27" cy="342.60" r="1.45" fill="#7a7a7a" fill-opacity="0.42" stroke="#666666" stroke-opacity="0.5" stroke-width="0.6"/>
<circle cx="51.27" cy="353.20" r="1.45" fill="#7a7a7a" fill-opacity="0.42" stroke="#666666" stroke-opacity="0.5" stroke-width="0.6"/>
<circle cx="51.27" cy="353.20" r="1.45" fill="#7a7a7a" fill-opacity="0.42" stroke="#666666" stroke-opacity="0.5" stroke-width="0.6"/>
<circle cx="51.27" cy="359.60" r="1.45" fill="#7a7a7a" fill-opacity="0.42" stroke="#666666" stroke-opacity="0.5" stroke-width="0.6"/>
<circle cx="58.56" cy="343.00" r="1.45" fill="#7a7a7a" fill-opacity="0.42" stroke="#666666" stroke-opacity="0.5" stroke-width="0.6"/>
<circle cx="58.56" cy="343.00" r="1.45" fill="#7a7a7a" fill-opacity="0.42" stroke="#666666" stroke-opacity="0.5" stroke-width="0.6"/>
<circle cx="58.56" cy="345.30" r="1.45" fill="#7a7a7a" fill-opacity="0.42" stroke="#666666" stroke-opacity="0.5" stroke-width="0.6"/>
<circle cx="65.85" cy="343.00" r="1.45" fill="#7a7a7a" fill-opacity="0.42" stroke="#666666" stroke-opacity="0.5" stroke-width="0.6"/>
<circle cx="65.85" cy="377.10" r="1.45" fill="#7a7a7a" fill-opacity="0.42" stroke="#666666" stroke-opacity="0.5" stroke-width="0.6"/>
<circle cx="65.85" cy="379.50" r="1.45" fill="#7a7a7a" fill-opacity="0.42" stroke="#666666" stroke-opacity="0.5" stroke-width="0.6"/>
<circle cx="73.14" cy="305.10" r="1.45" fill="#7a7a7a" fill-opacity="0.42" stroke="#666666" stroke-opacity="0.5" stroke-width="0.6"/>
<circle cx="73.14" cy="315.80" r="1.45" fill="#7a7a7a" fill-opacity="0.42" stroke="#666666" stroke-opacity="0.5" stroke-width="0.6"/>
<circle cx="73.14" cy="330.50" r="1.45" fill="#7a7a7a" fill-opacity="0.42" stroke="#666666" stroke-opacity="0.5" stroke-width="0.6"/>
<circle cx="73.14" cy="336.90" r="1.45" fill="#7a7a7a" fill-opacity="0.42" stroke="#666666" stroke-opacity="0.5" stroke-width="0.6"/>
<circle cx="73.14" cy="338.00" r="1.45" fill="#7a7a7a" fill-opacity="0.42" stroke="#666666" stroke-opacity="0.5" stroke-width="0.6"/>
<circle cx="73.14" cy="338.00" r="1.45" fill="#7a7a7a" fill-opacity="0.42" stroke="#666666" stroke-opacity="0.5" stroke-width="0.6"/>
<circle cx="80.43" cy="324.90" r="1.45" fill="#7a7a7a" fill-opacity="0.42" stroke="#666666" stroke-opacity="0.5" stroke-width="0.6"/>
<circle cx="80.43" cy="339.80" r="1.45" fill="#7a7a7a" fill-opacity="0.42" stroke="#666666" stroke-opacity="0.5" stroke-width="0.6"/>
<circle cx="80.43" cy="341.40" r="1.45" fill="#7a7a7a" fill-opacity="0.42" stroke="#666666" stroke-opacity="0.5" stroke-width="0.6"/>
<circle cx="80.43" cy="343.20" r="1.45" fill="#7a7a7a" fill-opacity="0.42" stroke="#666666" stroke-opacity="0.5" stroke-width="0.6"/>
<circle cx="87.72" cy="302.40" r="1.45" fill="#7a7a7a" fill-opacity="0.42" stroke="#666666" stroke-opacity="0.5" stroke-width="0.6"/>
<circle cx="87.72" cy="338.00" r="1.45" fill="#7a7a7a" fill-opacity="0.42" stroke="#666666" stroke-opacity="0.5" stroke-width="0.6"/>
<circle cx="95.01" cy="310.80" r="1.45" fill="#7a7a7a" fill-opacity="0.42" stroke="#666666" stroke-opacity="0.5" stroke-width="0.6"/>
<circle cx="95.01" cy="310.80" r="1.45" fill="#7a7a7a" fill-opacity="0.42" stroke="#666666" stroke-opacity="0.5" stroke-width="0.6"/>
<circle cx="95.01" cy="321.50" r="1.45" fill="#7a7a7a" fill-opacity="0.42" stroke="#666666" stroke-opacity="0.5" stroke-width="0.6"/>
<circle cx="95.01" cy="343.20" r="1.45" fill="#7a7a7a" fill-opacity="0.42" stroke="#666666" stroke-opacity="0.5" stroke-width="0.6"/>
<circle cx="95.01" cy="343.20" r="1.45" fill="#7a7a7a" fill-opacity="0.42" stroke="#666666" stroke-opacity="0.5" stroke-width="0.6"/>
<circle cx="102.30" cy="338.50" r="1.45" fill="#7a7a7a" fill-opacity="0.42" stroke="#666666" stroke-opacity="0.5" stroke-width="0.6"/>
<circle cx="102.30" cy="344.10" r="1.45" fill="#7a7a7a" fill-opacity="0.42" stroke="#666666" stroke-opacity="0.5" stroke-width="0.6"/>
<circle cx="102.30" cy="347.80" r="1.45" fill="#7a7a7a" fill-opacity="0.42" stroke="#666666" stroke-opacity="0.5" stroke-width="0.6"/>
<circle cx="102.30" cy="351.00" r="1.45" fill="#7a7a7a" fill-opacity="0.42" stroke="#666666" stroke-opacity="0.5" stroke-width="0.6"/>
<circle cx="102.30" cy="355.50" r="1.45" fill="#7a7a7a" fill-opacity="0.42" stroke="#666666" stroke-opacity="0.5" stroke-width="0.6"/>
<circle cx="109.59" cy="307.00" r="1.45" fill="#7a7a7a" fill-opacity="0.42" stroke="#666666" stroke-opacity="0.5" stroke-width="0.6"/>
<circle cx="109.59" cy="323.30" r="1.45" fill="#7a7a7a" fill-opacity="0.42" stroke="#666666" stroke-opacity="0.5" stroke-width="0.6"/>
<circle cx="109.59" cy="336.40" r="1.45" fill="#7a7a7a" fill-opacity="0.42" stroke="#666666" stroke-opacity="0.5" stroke-width="0.6"/>
<circle cx="109.59" cy="343.70" r="1.45" fill="#7a7a7a" fill-opacity="0.42" stroke="#666666" stroke-opacity="0.5" stroke-width="0.6"/>
<circle cx="109.59" cy="343.70" r="1.45" fill="#7a7a7a" fill-opacity="0.42" stroke="#666666" stroke-opacity="0.5" stroke-width="0.6"/>
<circle cx="109.59" cy="355.50" r="1.45" fill="#7a7a7a" fill-opacity="0.42" stroke="#666666" stroke-opacity="0.5" stroke-width="0.6"/>
<circle cx="116.88" cy="324.00" r="1.45" fill="#7a7a7a" fill-opacity="0.42" stroke="#666666" stroke-opacity="0.5" stroke-width="0.6"/>
<circle cx="116.88" cy="335.10" r="1.45" fill="#7a7a7a" fill-opacity="0.42" stroke="#666666" stroke-opacity="0.5" stroke-width="0.6"/>
<circle cx="116.88" cy="352.10" r="1.45" fill="#7a7a7a" fill-opacity="0.42" stroke="#666666" stroke-opacity="0.5" stroke-width="0.6"/>
<circle cx="124.17" cy="334.50" r="1.45" fill="#7a7a7a" fill-opacity="0.42" stroke="#666666" stroke-opacity="0.5" stroke-width="0.6"/>
<circle cx="131.46" cy="344.80" r="1.45" fill="#7a7a7a" fill-opacity="0.42" stroke="#666666" stroke-opacity="0.5" stroke-width="0.6"/>
<circle cx="131.46" cy="366.80" r="1.45" fill="#7a7a7a" fill-opacity="0.42" stroke="#666666" stroke-opacity="0.5" stroke-width="0.6"/>
<circle cx="131.46" cy="366.80" r="1.45" fill="#7a7a7a" fill-opacity="0.42" stroke="#666666" stroke-opacity="0.5" stroke-width="0.6"/>
<circle cx="131.46" cy="368.80" r="1.45" fill="#7a7a7a" fill-opacity="0.42" stroke="#666666" stroke-opacity="0.5" stroke-width="0.6"/>
<circle cx="131.46" cy="371.30" r="1.45" fill="#7a7a7a" fill-opacity="0.42" stroke="#666666" stroke-opacity="0.5" stroke-width="0.6"/>
<circle cx="138.75" cy="338.80" r="1.45" fill="#7a7a7a" fill-opacity="0.42" stroke="#666666" stroke-opacity="0.5" stroke-width="0.6"/>
<circle cx="138.75" cy="338.80" r="1.45" fill="#7a7a7a" fill-opacity="0.42" stroke="#666666" stroke-opacity="0.5" stroke-width="0.6"/>
<circle cx="138.75" cy="353.50" r="1.45" fill="#7a7a7a" fill-opacity="0.42" stroke="#666666" stroke-opacity="0.5" stroke-width="0.6"/>
<circle cx="138.75" cy="355.00" r="1.45" fill="#7a7a7a" fill-opacity="0.42" stroke="#666666" stroke-opacity="0.5" stroke-width="0.6"/>
<circle cx="138.75" cy="355.00" r="1.45" fill="#7a7a7a" fill-opacity="0.42" stroke="#666666" stroke-opacity="0.5" stroke-width="0.6"/>
<circle cx="138.75" cy="364.60" r="1.45" fill="#7a7a7a" fill-opacity="0.42" stroke="#666666" stroke-opacity="0.5" stroke-width="0.6"/>
<circle cx="138.75" cy="367.90" r="1.45" fill="#7a7a7a" fill-opacity="0.42" stroke="#666666" stroke-opacity="0.5" stroke-width="0.6"/>
<circle cx="146.04" cy="332.30" r="1.45" fill="#7a7a7a" fill-opacity="0.42" stroke="#666666" stroke-opacity="0.5" stroke-width="0.6"/>
<circle cx="146.04" cy="351.00" r="1.45" fill="#7a7a7a" fill-opacity="0.42" stroke="#666666" stroke-opacity="0.5" stroke-width="0.6"/>
<circle cx="146.04" cy="355.00" r="1.45" fill="#7a7a7a" fill-opacity="0.42" stroke="#666666" stroke-opacity="0.5" stroke-width="0.6"/>
<circle cx="146.04" cy="360.00" r="1.45" fill="#7a7a7a" fill-opacity="0.42" stroke="#666666" stroke-opacity="0.5" stroke-width="0.6"/>
<circle cx="146.04" cy="366.00" r="1.45" fill="#7a7a7a" fill-opacity="0.42" stroke="#666666" stroke-opacity="0.5" stroke-width="0.6"/>
<circle cx="153.33" cy="332.30" r="1.45" fill="#7a7a7a" fill-opacity="0.42" stroke="#666666" stroke-opacity="0.5" stroke-width="0.6"/>
<circle cx="153.33" cy="342.60" r="1.45" fill="#7a7a7a" fill-opacity="0.42" stroke="#666666" stroke-opacity="0.5" stroke-width="0.6"/>
<circle cx="153.33" cy="346.10" r="1.45" fill="#7a7a7a" fill-opacity="0.42" stroke="#666666" stroke-opacity="0.5" stroke-width="0.6"/>
<circle cx="153.33" cy="356.80" r="1.45" fill="#7a7a7a" fill-opacity="0.42" stroke="#666666" stroke-opacity="0.5" stroke-width="0.6"/>
<circle cx="153.33" cy="359.30" r="1.45" fill="#7a7a7a" fill-opacity="0.42" stroke="#666666" stroke-opacity="0.5" stroke-width="0.6"/>
<circle cx="153.33" cy="365.00" r="1.45" fill="#7a7a7a" fill-opacity="0.42" stroke="#666666" stroke-opacity="0.5" stroke-width="0.6"/>
<circle cx="153.33" cy="365.00" r="1.45" fill="#7a7a7a" fill-opacity="0.42" stroke="#666666" stroke-opacity="0.5" stroke-width="0.6"/>
<circle cx="160.62" cy="300.20" r="1.45" fill="#7a7a7a" fill-opacity="0.42" stroke="#666666" stroke-opacity="0.5" stroke-width="0.6"/>
<circle cx="160.62" cy="317.40" r="1.45" fill="#7a7a7a" fill-opacity="0.42" stroke="#666666" stroke-opacity="0.5" stroke-width="0.6"/>
<circle cx="160.62" cy="319.90" r="1.45" fill="#7a7a7a" fill-opacity="0.42" stroke="#666666" stroke-opacity="0.5" stroke-width="0.6"/>
<circle cx="167.91" cy="286.40" r="1.45" fill="#7a7a7a" fill-opacity="0.42" stroke="#666666" stroke-opacity="0.5" stroke-width="0.6"/>
<circle cx="167.91" cy="333.60" r="1.45" fill="#7a7a7a" fill-opacity="0.42" stroke="#666666" stroke-opacity="0.5" stroke-width="0.6"/>
<circle cx="167.91" cy="333.60" r="1.45" fill="#7a7a7a" fill-opacity="0.42" stroke="#666666" stroke-opacity="0.5" stroke-width="0.6"/>
<circle cx="175.20" cy="321.10" r="1.45" fill="#7a7a7a" fill-opacity="0.42" stroke="#666666" stroke-opacity="0.5" stroke-width="0.6"/>
<circle cx="175.20" cy="328.60" r="1.45" fill="#7a7a7a" fill-opacity="0.42" stroke="#666666" stroke-opacity="0.5" stroke-width="0.6"/>
<circle cx="175.20" cy="345.10" r="1.45" fill="#7a7a7a" fill-opacity="0.42" stroke="#666666" stroke-opacity="0.5" stroke-width="0.6"/>
<circle cx="175.20" cy="351.30" r="1.45" fill="#7a7a7a" fill-opacity="0.42" stroke="#666666" stroke-opacity="0.5" stroke-width="0.6"/>
<circle cx="182.49" cy="323.90" r="1.45" fill="#7a7a7a" fill-opacity="0.42" stroke="#666666" stroke-opacity="0.5" stroke-width="0.6"/>
<circle cx="182.49" cy="333.80" r="1.45" fill="#7a7a7a" fill-opacity="0.42" stroke="#666666" stroke-opacity="0.5" stroke-width="0.6"/>
<circle cx="182.49" cy="338.80" r="1.45" fill="#7a7a7a" fill-opacity="0.42" stroke="#666666" stroke-opacity="0.5" stroke-width="0.6"/>
<circle cx="189.78" cy="302.40" r="1.45" fill="#7a7a7a" fill-opacity="0.42" stroke="#666666" stroke-opacity="0.5" stroke-width="0.6"/>
<circle cx="197.07" cy="293.70" r="1.45" fill="#7a7a7a" fill-opacity="0.42" stroke="#666666" stroke-opacity="0.5" stroke-width="0.6"/>
<circle cx="197.07" cy="315.60" r="1.45" fill="#7a7a7a" fill-opacity="0.42" stroke="#666666" stroke-opacity="0.5" stroke-width="0.6"/>
<circle cx="197.07" cy="321.90" r="1.45" fill="#7a7a7a" fill-opacity="0.42" stroke="#666666" stroke-opacity="0.5" stroke-width="0.6"/>
<circle cx="197.07" cy="328.10" r="1.45" fill="#7a7a7a" fill-opacity="0.42" stroke="#666666" stroke-opacity="0.5" stroke-width="0.6"/>
<circle cx="197.07" cy="328.10" r="1.45" fill="#7a7a7a" fill-opacity="0.42" stroke="#666666" stroke-opacity="0.5" stroke-width="0.6"/>
<circle cx="204.36" cy="319.40" r="1.45" fill="#7a7a7a" fill-opacity="0.42" stroke="#666666" stroke-opacity="0.5" stroke-width="0.6"/>
<circle cx="204.36" cy="333.60" r="1.45" fill="#7a7a7a" fill-opacity="0.42" stroke="#666666" stroke-opacity="0.5" stroke-width="0.6"/>
<circle cx="211.65" cy="319.90" r="1.45" fill="#7a7a7a" fill-opacity="0.42" stroke="#666666" stroke-opacity="0.5" stroke-width="0.6"/>
<circle cx="218.94" cy="270.00" r="1.45" fill="#7a7a7a" fill-opacity="0.42" stroke="#666666" stroke-opacity="0.5" stroke-width="0.6"/>
<circle cx="218.94" cy="318.10" r="1.45" fill="#7a7a7a" fill-opacity="0.42" stroke="#666666" stroke-opacity="0.5" stroke-width="0.6"/>
<circle cx="218.94" cy="325.60" r="1.45" fill="#7a7a7a" fill-opacity="0.42" stroke="#666666" stroke-opacity="0.5" stroke-width="0.6"/>
<circle cx="218.94" cy="331.30" r="1.45" fill="#7a7a7a" fill-opacity="0.42" stroke="#666666" stroke-opacity="0.5" stroke-width="0.6"/>
<circle cx="218.94" cy="336.30" r="1.45" fill="#7a7a7a" fill-opacity="0.42" stroke="#666666" stroke-opacity="0.5" stroke-width="0.6"/>
<circle cx="218.94" cy="341.30" r="1.45" fill="#7a7a7a" fill-opacity="0.42" stroke="#666666" stroke-opacity="0.5" stroke-width="0.6"/>
<circle cx="218.94" cy="347.30" r="1.45" fill="#7a7a7a" fill-opacity="0.42" stroke="#666666" stroke-opacity="0.5" stroke-width="0.6"/>
<circle cx="218.94" cy="351.00" r="1.45" fill="#7a7a7a" fill-opacity="0.42" stroke="#666666" stroke-opacity="0.5" stroke-width="0.6"/>
<circle cx="226.23" cy="301.90" r="1.45" fill="#7a7a7a" fill-opacity="0.42" stroke="#666666" stroke-opacity="0.5" stroke-width="0.6"/>
<circle cx="226.23" cy="316.40" r="1.45" fill="#7a7a7a" fill-opacity="0.42" stroke="#666666" stroke-opacity="0.5" stroke-width="0.6"/>
<circle cx="226.23" cy="328.80" r="1.45" fill="#7a7a7a" fill-opacity="0.42" stroke="#666666" stroke-opacity="0.5" stroke-width="0.6"/>
<circle cx="226.23" cy="330.10" r="1.45" fill="#7a7a7a" fill-opacity="0.42" stroke="#666666" stroke-opacity="0.5" stroke-width="0.6"/>
<circle cx="226.23" cy="333.60" r="1.45" fill="#7a7a7a" fill-opacity="0.42" stroke="#666666" stroke-opacity="0.5" stroke-width="0.6"/>
<circle cx="233.52" cy="275.00" r="1.45" fill="#7a7a7a" fill-opacity="0.42" stroke="#666666" stroke-opacity="0.5" stroke-width="0.6"/>
<circle cx="233.52" cy="298.90" r="1.45" fill="#7a7a7a" fill-opacity="0.42" stroke="#666666" stroke-opacity="0.5" stroke-width="0.6"/>
<circle cx="233.52" cy="311.40" r="1.45" fill="#7a7a7a" fill-opacity="0.42" stroke="#666666" stroke-opacity="0.5" stroke-width="0.6"/>
<circle cx="240.81" cy="308.60" r="1.45" fill="#7a7a7a" fill-opacity="0.42" stroke="#666666" stroke-opacity="0.5" stroke-width="0.6"/>
<circle cx="240.81" cy="311.90" r="1.45" fill="#7a7a7a" fill-opacity="0.42" stroke="#666666" stroke-opacity="0.5" stroke-width="0.6"/>
<circle cx="248.10" cy="305.20" r="1.45" fill="#7a7a7a" fill-opacity="0.42" stroke="#666666" stroke-opacity="0.5" stroke-width="0.6"/>
<circle cx="255.39" cy="283.70" r="1.45" fill="#7a7a7a" fill-opacity="0.42" stroke="#666666" stroke-opacity="0.5" stroke-width="0.6"/>
<circle cx="255.39" cy="299.90" r="1.45" fill="#7a7a7a" fill-opacity="0.42" stroke="#666666" stroke-opacity="0.5" stroke-width="0.6"/>
<circle cx="255.39" cy="308.10" r="1.45" fill="#7a7a7a" fill-opacity="0.42" stroke="#666666" stroke-opacity="0.5" stroke-width="0.6"/>
<circle cx="262.68" cy="302.70" r="1.45" fill="#7a7a7a" fill-opacity="0.42" stroke="#666666" stroke-opacity="0.5" stroke-width="0.6"/>
<circle cx="262.68" cy="307.60" r="1.45" fill="#7a7a7a" fill-opacity="0.42" stroke="#666666" stroke-opacity="0.5" stroke-width="0.6"/>
<circle cx="262.68" cy="310.60" r="1.45" fill="#7a7a7a" fill-opacity="0.42" stroke="#666666" stroke-opacity="0.5" stroke-width="0.6"/>
<circle cx="262.68" cy="328.60" r="1.45" fill="#7a7a7a" fill-opacity="0.42" stroke="#666666" stroke-opacity="0.5" stroke-width="0.6"/>
<circle cx="269.97" cy="289.90" r="1.45" fill="#7a7a7a" fill-opacity="0.42" stroke="#666666" stroke-opacity="0.5" stroke-width="0.6"/>
<circle cx="269.97" cy="294.90" r="1.45" fill="#7a7a7a" fill-opacity="0.42" stroke="#666666" stroke-opacity="0.5" stroke-width="0.6"/>
<circle cx="284.55" cy="261.00" r="1.45" fill="#7a7a7a" fill-opacity="0.42" stroke="#666666" stroke-opacity="0.5" stroke-width="0.6"/>
<circle cx="284.55" cy="281.50" r="1.45" fill="#7a7a7a" fill-opacity="0.42" stroke="#666666" stroke-opacity="0.5" stroke-width="0.6"/>
<circle cx="284.55" cy="294.40" r="1.45" fill="#7a7a7a" fill-opacity="0.42" stroke="#666666" stroke-opacity="0.5" stroke-width="0.6"/>
<circle cx="284.55" cy="298.90" r="1.45" fill="#7a7a7a" fill-opacity="0.42" stroke="#666666" stroke-opacity="0.5" stroke-width="0.6"/>
<circle cx="291.84" cy="284.00" r="1.45" fill="#7a7a7a" fill-opacity="0.42" stroke="#666666" stroke-opacity="0.5" stroke-width="0.6"/>
<circle cx="291.84" cy="311.10" r="1.45" fill="#7a7a7a" fill-opacity="0.42" stroke="#666666" stroke-opacity="0.5" stroke-width="0.6"/>
<circle cx="291.84" cy="313.90" r="1.45" fill="#7a7a7a" fill-opacity="0.42" stroke="#666666" stroke-opacity="0.5" stroke-width="0.6"/>
<circle cx="299.13" cy="289.90" r="1.45" fill="#7a7a7a" fill-opacity="0.42" stroke="#666666" stroke-opacity="0.5" stroke-width="0.6"/>
<circle cx="299.13" cy="297.70" r="1.45" fill="#7a7a7a" fill-opacity="0.42" stroke="#666666" stroke-opacity="0.5" stroke-width="0.6"/>
<circle cx="299.13" cy="321.10" r="1.45" fill="#7a7a7a" fill-opacity="0.42" stroke="#666666" stroke-opacity="0.5" stroke-width="0.6"/>
<circle cx="299.13" cy="333.60" r="1.45" fill="#7a7a7a" fill-opacity="0.42" stroke="#666666" stroke-opacity="0.5" stroke-width="0.6"/>
<circle cx="306.42" cy="270.00" r="1.45" fill="#7a7a7a" fill-opacity="0.42" stroke="#666666" stroke-opacity="0.5" stroke-width="0.6"/>
<circle cx="306.42" cy="314.40" r="1.45" fill="#7a7a7a" fill-opacity="0.42" stroke="#666666" stroke-opacity="0.5" stroke-width="0.6"/>
<circle cx="306.42" cy="316.10" r="1.45" fill="#7a7a7a" fill-opacity="0.42" stroke="#666666" stroke-opacity="0.5" stroke-width="0.6"/>
<circle cx="313.71" cy="273.70" r="1.45" fill="#7a7a7a" fill-opacity="0.42" stroke="#666666" stroke-opacity="0.5" stroke-width="0.6"/>
<circle cx="313.71" cy="273.70" r="1.45" fill="#7a7a7a" fill-opacity="0.42" stroke="#666666" stroke-opacity="0.5" stroke-width="0.6"/>
<circle cx="313.71" cy="288.70" r="1.45" fill="#7a7a7a" fill-opacity="0.42" stroke="#666666" stroke-opacity="0.5" stroke-width="0.6"/>
<circle cx="313.71" cy="288.70" r="1.45" fill="#7a7a7a" fill-opacity="0.42" stroke="#666666" stroke-opacity="0.5" stroke-width="0.6"/>
<circle cx="313.71" cy="290.70" r="1.45" fill="#7a7a7a" fill-opacity="0.42" stroke="#666666" stroke-opacity="0.5" stroke-width="0.6"/>
<circle cx="313.71" cy="314.40" r="1.45" fill="#7a7a7a" fill-opacity="0.42" stroke="#666666" stroke-opacity="0.5" stroke-width="0.6"/>
<circle cx="313.71" cy="319.90" r="1.45" fill="#7a7a7a" fill-opacity="0.42" stroke="#666666" stroke-opacity="0.5" stroke-width="0.6"/>
<circle cx="321.00" cy="309.40" r="1.45" fill="#7a7a7a" fill-opacity="0.42" stroke="#666666" stroke-opacity="0.5" stroke-width="0.6"/>
<path d="M33.59 389.50L39.79 395.70M33.59 395.70L39.79 389.50" stroke="#0000ff" stroke-width="1.5" fill="none"/>
<path d="M40.88 360.30L47.08 366.50M40.88 366.50L47.08 360.30" stroke="#0000ff" stroke-width="1.5" fill="none"/>
<path d="M48.17 407.50L54.37 413.70M48.17 413.70L54.37 407.50" stroke="#0000ff" stroke-width="1.5" fill="none"/>
<path d="M55.46 410.90L61.66 417.10M55.46 417.10L61.66 410.90" stroke="#0000ff" stroke-width="1.5" fill="none"/>
<path d="M62.75 418.90L68.95 425.10M62.75 425.10L68.95 418.90" stroke="#0000ff" stroke-width="1.5" fill="none"/>
<path d="M70.04 389.90L76.24 396.10M70.04 396.10L76.24 389.90" stroke="#0000ff" stroke-width="1.5" fill="none"/>
<path d="M77.33 406.40L83.53 412.60M77.33 412.60L83.53 406.40" stroke="#0000ff" stroke-width="1.5" fill="none"/>
<path d="M84.62 409.70L90.82 415.90M84.62 415.90L90.82 409.70" stroke="#0000ff" stroke-width="1.5" fill="none"/>
<path d="M91.91 416.90L98.11 423.10M91.91 423.10L98.11 416.90" stroke="#0000ff" stroke-width="1.5" fill="none"/>
<path d="M99.20 417.70L105.40 423.90M99.20 423.90L105.40 417.70" stroke="#0000ff" stroke-width="1.5" fill="none"/>
<path d="M106.49 415.40L112.69 421.60M106.49 421.60L112.69 415.40" stroke="#0000ff" stroke-width="1.5" fill="none"/>
<path d="M113.78 400.50L119.98 406.70M113.78 406.70L119.98 400.50" stroke="#0000ff" stroke-width="1.5" fill="none"/>
<path d="M121.07 411.40L127.27 417.60M121.07 417.60L127.27 411.40" stroke="#0000ff" stroke-width="1.5" fill="none"/>
<path d="M128.36 401.80L134.56 408.00M128.36 408.00L134.56 401.80" stroke="#0000ff" stroke-width="1.5" fill="none"/>
<path d="M135.65 411.80L141.85 418.00M135.65 418.00L141.85 411.80" stroke="#0000ff" stroke-width="1.5" fill="none"/>
<path d="M142.94 414.10L149.14 420.30M142.94 420.30L149.14 414.10" stroke="#0000ff" stroke-width="1.5" fill="none"/>
<path d="M150.23 410.30L156.43 416.50M150.23 416.50L156.43 410.30" stroke="#0000ff" stroke-width="1.5" fill="none"/>
<path d="M157.52 418.70L163.72 424.90M157.52 424.90L163.72 418.70" stroke="#0000ff" stroke-width="1.5" fill="none"/>
<path d="M164.81 416.30L171.01 422.50M164.81 422.50L171.01 416.30" stroke="#0000ff" stroke-width="1.5" fill="none"/>
<path d="M172.10 371.20L178.30 377.40M172.10 377.40L178.30 371.20" stroke="#0000ff" stroke-width="1.5" fill="none"/>
<path d="M179.39 374.90L185.59 381.10M179.39 381.10L185.59 374.90" stroke="#0000ff" stroke-width="1.5" fill="none"/>
<path d="M186.68 410.30L192.88 416.50M186.68 416.50L192.88 410.30" stroke="#0000ff" stroke-width="1.5" fill="none"/>
<path d="M193.97 418.50L200.17 424.70M193.97 424.70L200.17 418.50" stroke="#0000ff" stroke-width="1.5" fill="none"/>
<path d="M201.26 402.30L207.46 408.50M201.26 408.50L207.46 402.30" stroke="#0000ff" stroke-width="1.5" fill="none"/>
<path d="M208.55 409.00L214.75 415.20M208.55 415.20L214.75 409.00" stroke="#0000ff" stroke-width="1.5" fill="none"/>
<path d="M215.84 406.00L222.04 412.20M215.84 412.20L222.04 406.00" stroke="#0000ff" stroke-width="1.5" fill="none"/>
<path d="M223.13 370.60L229.33 376.80M223.13 376.80L229.33 370.60" stroke="#0000ff" stroke-width="1.5" fill="none"/>
<path d="M230.42 402.70L236.62 408.90M230.42 408.90L236.62 402.70" stroke="#0000ff" stroke-width="1.5" fill="none"/>
<path d="M237.71 410.20L243.91 416.40M237.71 416.40L243.91 410.20" stroke="#0000ff" stroke-width="1.5" fill="none"/>
<path d="M245.00 410.20L251.20 416.40M245.00 416.40L251.20 410.20" stroke="#0000ff" stroke-width="1.5" fill="none"/>
<path d="M252.29 378.60L258.49 384.80M252.29 384.80L258.49 378.60" stroke="#0000ff" stroke-width="1.5" fill="none"/>
<path d="M259.58 409.80L265.78 416.00M259.58 416.00L265.78 409.80" stroke="#0000ff" stroke-width="1.5" fill="none"/>
<path d="M266.87 392.20L273.07 398.40M266.87 398.40L273.07 392.20" stroke="#0000ff" stroke-width="1.5" fill="none"/>
<path d="M274.16 366.90L280.36 373.10M274.16 373.10L280.36 366.90" stroke="#0000ff" stroke-width="1.5" fill="none"/>
<path d="M281.45 413.30L287.65 419.50M281.45 419.50L287.65 413.30" stroke="#0000ff" stroke-width="1.5" fill="none"/>
<path d="M288.74 414.90L294.94 421.10M288.74 421.10L294.94 414.90" stroke="#0000ff" stroke-width="1.5" fill="none"/>
<path d="M296.03 365.10L302.23 371.30M296.03 371.30L302.23 365.10" stroke="#0000ff" stroke-width="1.5" fill="none"/>
<path d="M303.32 404.70L309.52 410.90M303.32 410.90L309.52 404.70" stroke="#0000ff" stroke-width="1.5" fill="none"/>
<path d="M310.61 381.60L316.81 387.80M310.61 387.80L316.81 381.60" stroke="#0000ff" stroke-width="1.5" fill="none"/>
<path d="M317.90 366.50L324.10 372.70M317.90 372.70L324.10 366.50" stroke="#0000ff" stroke-width="1.5" fill="none"/>
<line x1="19.60" y1="246.30" x2="19.60" y2="432.30" stroke="#333333" stroke-width="1.2"/>
<line x1="19.10" y1="431.80" x2="338.30" y2="431.80" stroke="#333333" stroke-width="1.2"/>
<line x1="17.40" y1="258.50" x2="19.60" y2="258.50" stroke="#333333" stroke-width="1.07"/>
<text transform="translate(15.30,261.05) scale(1.13,1)" text-anchor="end" font-size="7.1" fill="#4d4d4d">8</text>
<line x1="17.40" y1="299.50" x2="19.60" y2="299.50" stroke="#333333" stroke-width="1.07"/>
<text transform="translate(15.30,302.05) scale(1.13,1)" text-anchor="end" font-size="7.1" fill="#4d4d4d">6</text>
<line x1="17.40" y1="340.60" x2="19.60" y2="340.60" stroke="#333333" stroke-width="1.07"/>
<text transform="translate(15.30,343.15) scale(1.13,1)" text-anchor="end" font-size="7.1" fill="#4d4d4d">4</text>
<line x1="17.40" y1="382.00" x2="19.60" y2="382.00" stroke="#333333" stroke-width="1.07"/>
<text transform="translate(15.30,384.55) scale(1.13,1)" text-anchor="end" font-size="7.1" fill="#4d4d4d">2</text>
<line x1="17.40" y1="423.40" x2="19.60" y2="423.40" stroke="#333333" stroke-width="1.07"/>
<text transform="translate(15.30,425.95) scale(1.13,1)" text-anchor="end" font-size="7.1" fill="#4d4d4d">0</text>
<line x1="29.40" y1="431.80" x2="29.40" y2="434.00" stroke="#333333" stroke-width="1.07"/>
<text transform="translate(29.40,441.00) scale(1.05,1)" text-anchor="middle" font-size="7.8" fill="#4d4d4d">1980</text>
<line x1="102.30" y1="431.80" x2="102.30" y2="434.00" stroke="#333333" stroke-width="1.07"/>
<text transform="translate(102.30,441.00) scale(1.05,1)" text-anchor="middle" font-size="7.8" fill="#4d4d4d">1990</text>
<line x1="175.20" y1="431.80" x2="175.20" y2="434.00" stroke="#333333" stroke-width="1.07"/>
<text transform="translate(175.20,441.00) scale(1.05,1)" text-anchor="middle" font-size="7.8" fill="#4d4d4d">2000</text>
<line x1="248.10" y1="431.80" x2="248.10" y2="434.00" stroke="#333333" stroke-width="1.07"/>
<text transform="translate(248.10,441.00) scale(1.05,1)" text-anchor="middle" font-size="7.8" fill="#4d4d4d">2010</text>
<line x1="321.00" y1="431.80" x2="321.00" y2="434.00" stroke="#333333" stroke-width="1.07"/>
<text transform="translate(321.00,441.00) scale(1.05,1)" text-anchor="middle" font-size="7.8" fill="#4d4d4d">2020</text>
<text transform="translate(6.80,338.30) rotate(-90)" text-anchor="middle" font-size="8.4" stroke="#000" stroke-width="0.05" fill="#000" textLength="109.0" lengthAdjust="spacingAndGlyphs">Enzyme breakdown days</text>
<path d="M66.30 245.70L72.30 251.70M66.30 251.70L72.30 245.70" stroke="#0000ff" stroke-width="1.5" fill="none"/>
<text x="80.40" y="251.45" font-size="7.1" fill="#1a1a1a" stroke="#1a1a1a" stroke-width="0.12">OBS</text>
<line x1="69.30" y1="256.60" x2="69.30" y2="267.80" stroke="#333333" stroke-width="1.0"/>
<rect x="64.00" y="258.70" width="10.6" height="7.2" fill="#b3b3b3" stroke="#333333" stroke-width="0.9"/>
<line x1="64.00" y1="262.30" x2="74.60" y2="262.30" stroke="#333333" stroke-width="1.1"/>
<text x="80.40" y="264.70" font-size="7.1" fill="#1a1a1a" stroke="#1a1a1a" stroke-width="0.12">UNSEEN</text>
<text x="-0.30" y="239.00" font-size="12.5" font-weight="bold" fill="#000">c</text>
<line x1="391.69" y1="308.50" x2="391.69" y2="346.70" stroke="#333333" stroke-width="1.1"/>
<line x1="391.69" y1="373.30" x2="391.69" y2="402.80" stroke="#333333" stroke-width="1.1"/>
<line x1="398.77" y1="304.60" x2="398.77" y2="345.60" stroke="#333333" stroke-width="1.1"/>
<line x1="398.77" y1="374.30" x2="398.77" y2="405.00" stroke="#333333" stroke-width="1.1"/>
<line x1="405.86" y1="322.30" x2="405.86" y2="354.30" stroke="#333333" stroke-width="1.1"/>
<line x1="405.86" y1="380.20" x2="405.86" y2="405.50" stroke="#333333" stroke-width="1.1"/>
<line x1="412.94" y1="323.00" x2="412.94" y2="356.10" stroke="#333333" stroke-width="1.1"/>
<line x1="412.94" y1="386.40" x2="412.94" y2="414.50" stroke="#333333" stroke-width="1.1"/>
<line x1="420.03" y1="312.80" x2="420.03" y2="351.20" stroke="#333333" stroke-width="1.1"/>
<line x1="420.03" y1="378.50" x2="420.03" y2="417.50" stroke="#333333" stroke-width="1.1"/>
<line x1="427.11" y1="312.60" x2="427.11" y2="351.20" stroke="#333333" stroke-width="1.1"/>
<line x1="427.11" y1="381.50" x2="427.11" y2="406.50" stroke="#333333" stroke-width="1.1"/>
<line x1="434.20" y1="309.10" x2="434.20" y2="342.10" stroke="#333333" stroke-width="1.1"/>
<line x1="434.20" y1="375.30" x2="434.20" y2="420.10" stroke="#333333" stroke-width="1.1"/>
<line x1="441.28" y1="316.60" x2="441.28" y2="345.20" stroke="#333333" stroke-width="1.1"/>
<line x1="441.28" y1="375.30" x2="441.28" y2="407.70" stroke="#333333" stroke-width="1.1"/>
<line x1="448.37" y1="314.80" x2="448.37" y2="351.20" stroke="#333333" stroke-width="1.1"/>
<line x1="448.37" y1="379.30" x2="448.37" y2="417.30" stroke="#333333" stroke-width="1.1"/>
<line x1="455.45" y1="302.00" x2="455.45" y2="340.30" stroke="#333333" stroke-width="1.1"/>
<line x1="455.45" y1="374.10" x2="455.45" y2="409.40" stroke="#333333" stroke-width="1.1"/>
<line x1="462.54" y1="304.60" x2="462.54" y2="343.60" stroke="#333333" stroke-width="1.1"/>
<line x1="462.54" y1="374.40" x2="462.54" y2="409.90" stroke="#333333" stroke-width="1.1"/>
<line x1="469.62" y1="309.10" x2="469.62" y2="345.00" stroke="#333333" stroke-width="1.1"/>
<line x1="469.62" y1="376.20" x2="469.62" y2="404.50" stroke="#333333" stroke-width="1.1"/>
<line x1="476.71" y1="298.30" x2="476.71" y2="343.00" stroke="#333333" stroke-width="1.1"/>
<line x1="476.71" y1="379.30" x2="476.71" y2="402.80" stroke="#333333" stroke-width="1.1"/>
<line x1="483.79" y1="312.60" x2="483.79" y2="349.00" stroke="#333333" stroke-width="1.1"/>
<line x1="483.79" y1="374.00" x2="483.79" y2="402.80" stroke="#333333" stroke-width="1.1"/>
<line x1="490.88" y1="293.40" x2="490.88" y2="337.80" stroke="#333333" stroke-width="1.1"/>
<line x1="490.88" y1="371.30" x2="490.88" y2="397.50" stroke="#333333" stroke-width="1.1"/>
<line x1="497.96" y1="314.80" x2="497.96" y2="346.30" stroke="#333333" stroke-width="1.1"/>
<line x1="497.96" y1="375.70" x2="497.96" y2="394.20" stroke="#333333" stroke-width="1.1"/>
<line x1="505.05" y1="286.00" x2="505.05" y2="335.30" stroke="#333333" stroke-width="1.1"/>
<line x1="505.05" y1="368.40" x2="505.05" y2="403.60" stroke="#333333" stroke-width="1.1"/>
<line x1="512.13" y1="298.40" x2="512.13" y2="340.30" stroke="#333333" stroke-width="1.1"/>
<line x1="512.13" y1="376.20" x2="512.13" y2="414.70" stroke="#333333" stroke-width="1.1"/>
<line x1="519.22" y1="297.00" x2="519.22" y2="346.80" stroke="#333333" stroke-width="1.1"/>
<line x1="519.22" y1="380.20" x2="519.22" y2="407.70" stroke="#333333" stroke-width="1.1"/>
<line x1="526.30" y1="300.70" x2="526.30" y2="341.20" stroke="#333333" stroke-width="1.1"/>
<line x1="526.30" y1="373.90" x2="526.30" y2="408.50" stroke="#333333" stroke-width="1.1"/>
<line x1="533.38" y1="316.10" x2="533.38" y2="347.60" stroke="#333333" stroke-width="1.1"/>
<line x1="533.38" y1="371.20" x2="533.38" y2="403.30" stroke="#333333" stroke-width="1.1"/>
<line x1="540.47" y1="300.40" x2="540.47" y2="339.30" stroke="#333333" stroke-width="1.1"/>
<line x1="540.47" y1="370.10" x2="540.47" y2="395.80" stroke="#333333" stroke-width="1.1"/>
<line x1="547.56" y1="309.30" x2="547.56" y2="342.10" stroke="#333333" stroke-width="1.1"/>
<line x1="547.56" y1="371.90" x2="547.56" y2="409.90" stroke="#333333" stroke-width="1.1"/>
<line x1="554.64" y1="296.10" x2="554.64" y2="341.00" stroke="#333333" stroke-width="1.1"/>
<line x1="554.64" y1="371.00" x2="554.64" y2="414.30" stroke="#333333" stroke-width="1.1"/>
<line x1="561.73" y1="291.10" x2="561.73" y2="341.00" stroke="#333333" stroke-width="1.1"/>
<line x1="561.73" y1="374.20" x2="561.73" y2="411.60" stroke="#333333" stroke-width="1.1"/>
<line x1="568.81" y1="299.30" x2="568.81" y2="341.20" stroke="#333333" stroke-width="1.1"/>
<line x1="568.81" y1="371.00" x2="568.81" y2="413.80" stroke="#333333" stroke-width="1.1"/>
<line x1="575.89" y1="303.00" x2="575.89" y2="339.20" stroke="#333333" stroke-width="1.1"/>
<line x1="575.89" y1="372.40" x2="575.89" y2="408.70" stroke="#333333" stroke-width="1.1"/>
<line x1="582.98" y1="314.30" x2="582.98" y2="353.00" stroke="#333333" stroke-width="1.1"/>
<line x1="582.98" y1="381.90" x2="582.98" y2="408.70" stroke="#333333" stroke-width="1.1"/>
<line x1="590.07" y1="308.20" x2="590.07" y2="341.20" stroke="#333333" stroke-width="1.1"/>
<line x1="590.07" y1="369.20" x2="590.07" y2="406.90" stroke="#333333" stroke-width="1.1"/>
<line x1="597.15" y1="293.30" x2="597.15" y2="343.40" stroke="#333333" stroke-width="1.1"/>
<line x1="597.15" y1="377.30" x2="597.15" y2="402.50" stroke="#333333" stroke-width="1.1"/>
<line x1="604.24" y1="305.10" x2="604.24" y2="346.70" stroke="#333333" stroke-width="1.1"/>
<line x1="604.24" y1="374.60" x2="604.24" y2="406.50" stroke="#333333" stroke-width="1.1"/>
<line x1="611.32" y1="310.80" x2="611.32" y2="347.00" stroke="#333333" stroke-width="1.1"/>
<line x1="611.32" y1="375.10" x2="611.32" y2="406.50" stroke="#333333" stroke-width="1.1"/>
<line x1="618.40" y1="286.10" x2="618.40" y2="331.40" stroke="#333333" stroke-width="1.1"/>
<line x1="618.40" y1="365.50" x2="618.40" y2="409.80" stroke="#333333" stroke-width="1.1"/>
<line x1="625.49" y1="300.00" x2="625.49" y2="341.20" stroke="#333333" stroke-width="1.1"/>
<line x1="625.49" y1="374.20" x2="625.49" y2="417.80" stroke="#333333" stroke-width="1.1"/>
<line x1="632.58" y1="298.40" x2="632.58" y2="332.50" stroke="#333333" stroke-width="1.1"/>
<line x1="632.58" y1="369.20" x2="632.58" y2="423.30" stroke="#333333" stroke-width="1.1"/>
<line x1="639.66" y1="291.20" x2="639.66" y2="336.50" stroke="#333333" stroke-width="1.1"/>
<line x1="639.66" y1="371.50" x2="639.66" y2="408.00" stroke="#333333" stroke-width="1.1"/>
<line x1="646.75" y1="291.80" x2="646.75" y2="337.00" stroke="#333333" stroke-width="1.1"/>
<line x1="646.75" y1="372.10" x2="646.75" y2="416.50" stroke="#333333" stroke-width="1.1"/>
<line x1="653.83" y1="299.40" x2="653.83" y2="340.70" stroke="#333333" stroke-width="1.1"/>
<line x1="653.83" y1="371.50" x2="653.83" y2="403.80" stroke="#333333" stroke-width="1.1"/>
<line x1="660.91" y1="290.80" x2="660.91" y2="336.50" stroke="#333333" stroke-width="1.1"/>
<line x1="660.91" y1="372.10" x2="660.91" y2="408.30" stroke="#333333" stroke-width="1.1"/>
<line x1="668.00" y1="298.60" x2="668.00" y2="337.60" stroke="#333333" stroke-width="1.1"/>
<line x1="668.00" y1="371.50" x2="668.00" y2="419.60" stroke="#333333" stroke-width="1.1"/>
<rect x="389.03" y="346.70" width="5.31" height="26.60" fill="#b3b3b3" stroke="#333333" stroke-width="0.75"/>
<line x1="389.03" y1="359.20" x2="394.34" y2="359.20" stroke="#333333" stroke-width="1.5"/>
<rect x="396.11" y="345.60" width="5.31" height="28.70" fill="#b3b3b3" stroke="#333333" stroke-width="0.75"/>
<line x1="396.11" y1="361.50" x2="401.43" y2="361.50" stroke="#333333" stroke-width="1.5"/>
<rect x="403.20" y="354.30" width="5.31" height="25.90" fill="#b3b3b3" stroke="#333333" stroke-width="0.75"/>
<line x1="403.20" y1="369.70" x2="408.51" y2="369.70" stroke="#333333" stroke-width="1.5"/>
<rect x="410.28" y="356.10" width="5.31" height="30.30" fill="#b3b3b3" stroke="#333333" stroke-width="0.75"/>
<line x1="410.28" y1="374.50" x2="415.60" y2="374.50" stroke="#333333" stroke-width="1.5"/>
<rect x="417.37" y="351.20" width="5.31" height="27.30" fill="#b3b3b3" stroke="#333333" stroke-width="0.75"/>
<line x1="417.37" y1="364.80" x2="422.68" y2="364.80" stroke="#333333" stroke-width="1.5"/>
<rect x="424.45" y="351.20" width="5.31" height="30.30" fill="#b3b3b3" stroke="#333333" stroke-width="0.75"/>
<line x1="424.45" y1="365.70" x2="429.77" y2="365.70" stroke="#333333" stroke-width="1.5"/>
<rect x="431.54" y="342.10" width="5.31" height="33.20" fill="#b3b3b3" stroke="#333333" stroke-width="0.75"/>
<line x1="431.54" y1="358.30" x2="436.85" y2="358.30" stroke="#333333" stroke-width="1.5"/>
<rect x="438.62" y="345.20" width="5.31" height="30.10" fill="#b3b3b3" stroke="#333333" stroke-width="0.75"/>
<line x1="438.62" y1="360.60" x2="443.94" y2="360.60" stroke="#333333" stroke-width="1.5"/>
<rect x="445.71" y="351.20" width="5.31" height="28.10" fill="#b3b3b3" stroke="#333333" stroke-width="0.75"/>
<line x1="445.71" y1="369.20" x2="451.02" y2="369.20" stroke="#333333" stroke-width="1.5"/>
<rect x="452.79" y="340.30" width="5.31" height="33.80" fill="#b3b3b3" stroke="#333333" stroke-width="0.75"/>
<line x1="452.79" y1="355.30" x2="458.11" y2="355.30" stroke="#333333" stroke-width="1.5"/>
<rect x="459.88" y="343.60" width="5.31" height="30.80" fill="#b3b3b3" stroke="#333333" stroke-width="0.75"/>
<line x1="459.88" y1="358.60" x2="465.19" y2="358.60" stroke="#333333" stroke-width="1.5"/>
<rect x="466.96" y="345.00" width="5.31" height="31.20" fill="#b3b3b3" stroke="#333333" stroke-width="0.75"/>
<line x1="466.96" y1="359.00" x2="472.28" y2="359.00" stroke="#333333" stroke-width="1.5"/>
<rect x="474.05" y="343.00" width="5.31" height="36.30" fill="#b3b3b3" stroke="#333333" stroke-width="0.75"/>
<line x1="474.05" y1="362.60" x2="479.36" y2="362.60" stroke="#333333" stroke-width="1.5"/>
<rect x="481.13" y="349.00" width="5.31" height="25.00" fill="#b3b3b3" stroke="#333333" stroke-width="0.75"/>
<line x1="481.13" y1="360.40" x2="486.45" y2="360.40" stroke="#333333" stroke-width="1.5"/>
<rect x="488.22" y="337.80" width="5.31" height="33.50" fill="#b3b3b3" stroke="#333333" stroke-width="0.75"/>
<line x1="488.22" y1="354.40" x2="493.53" y2="354.40" stroke="#333333" stroke-width="1.5"/>
<rect x="495.30" y="346.30" width="5.31" height="29.40" fill="#b3b3b3" stroke="#333333" stroke-width="0.75"/>
<line x1="495.30" y1="362.20" x2="500.62" y2="362.20" stroke="#333333" stroke-width="1.5"/>
<rect x="502.39" y="335.30" width="5.31" height="33.10" fill="#b3b3b3" stroke="#333333" stroke-width="0.75"/>
<line x1="502.39" y1="356.30" x2="507.70" y2="356.30" stroke="#333333" stroke-width="1.5"/>
<rect x="509.47" y="340.30" width="5.31" height="35.90" fill="#b3b3b3" stroke="#333333" stroke-width="0.75"/>
<line x1="509.47" y1="358.10" x2="514.79" y2="358.10" stroke="#333333" stroke-width="1.5"/>
<rect x="516.56" y="346.80" width="5.31" height="33.40" fill="#b3b3b3" stroke="#333333" stroke-width="0.75"/>
<line x1="516.56" y1="366.20" x2="521.87" y2="366.20" stroke="#333333" stroke-width="1.5"/>
<rect x="523.64" y="341.20" width="5.31" height="32.70" fill="#b3b3b3" stroke="#333333" stroke-width="0.75"/>
<line x1="523.64" y1="358.00" x2="528.96" y2="358.00" stroke="#333333" stroke-width="1.5"/>
<rect x="530.73" y="347.60" width="5.31" height="23.60" fill="#b3b3b3" stroke="#333333" stroke-width="0.75"/>
<line x1="530.73" y1="361.90" x2="536.04" y2="361.90" stroke="#333333" stroke-width="1.5"/>
<rect x="537.81" y="339.30" width="5.31" height="30.80" fill="#b3b3b3" stroke="#333333" stroke-width="0.75"/>
<line x1="537.81" y1="354.60" x2="543.13" y2="354.60" stroke="#333333" stroke-width="1.5"/>
<rect x="544.90" y="342.10" width="5.31" height="29.80" fill="#b3b3b3" stroke="#333333" stroke-width="0.75"/>
<line x1="544.90" y1="357.00" x2="550.21" y2="357.00" stroke="#333333" stroke-width="1.5"/>
<rect x="551.98" y="341.00" width="5.31" height="30.00" fill="#b3b3b3" stroke="#333333" stroke-width="0.75"/>
<line x1="551.98" y1="360.60" x2="557.30" y2="360.60" stroke="#333333" stroke-width="1.5"/>
<rect x="559.07" y="341.00" width="5.31" height="33.20" fill="#b3b3b3" stroke="#333333" stroke-width="0.75"/>
<line x1="559.07" y1="362.40" x2="564.38" y2="362.40" stroke="#333333" stroke-width="1.5"/>
<rect x="566.15" y="341.20" width="5.31" height="29.80" fill="#b3b3b3" stroke="#333333" stroke-width="0.75"/>
<line x1="566.15" y1="354.60" x2="571.47" y2="354.60" stroke="#333333" stroke-width="1.5"/>
<rect x="573.24" y="339.20" width="5.31" height="33.20" fill="#b3b3b3" stroke="#333333" stroke-width="0.75"/>
<line x1="573.24" y1="357.00" x2="578.55" y2="357.00" stroke="#333333" stroke-width="1.5"/>
<rect x="580.32" y="353.00" width="5.31" height="28.90" fill="#b3b3b3" stroke="#333333" stroke-width="0.75"/>
<line x1="580.32" y1="364.80" x2="585.64" y2="364.80" stroke="#333333" stroke-width="1.5"/>
<rect x="587.41" y="341.20" width="5.31" height="28.00" fill="#b3b3b3" stroke="#333333" stroke-width="0.75"/>
<line x1="587.41" y1="355.60" x2="592.72" y2="355.60" stroke="#333333" stroke-width="1.5"/>
<rect x="594.49" y="343.40" width="5.31" height="33.90" fill="#b3b3b3" stroke="#333333" stroke-width="0.75"/>
<line x1="594.49" y1="362.40" x2="599.81" y2="362.40" stroke="#333333" stroke-width="1.5"/>
<rect x="601.58" y="346.70" width="5.31" height="27.90" fill="#b3b3b3" stroke="#333333" stroke-width="0.75"/>
<line x1="601.58" y1="361.50" x2="606.89" y2="361.50" stroke="#333333" stroke-width="1.5"/>
<rect x="608.66" y="347.00" width="5.31" height="28.10" fill="#b3b3b3" stroke="#333333" stroke-width="0.75"/>
<line x1="608.66" y1="362.40" x2="613.98" y2="362.40" stroke="#333333" stroke-width="1.5"/>
<rect x="615.75" y="331.40" width="5.31" height="34.10" fill="#b3b3b3" stroke="#333333" stroke-width="0.75"/>
<line x1="615.75" y1="351.00" x2="621.06" y2="351.00" stroke="#333333" stroke-width="1.5"/>
<rect x="622.83" y="341.20" width="5.31" height="33.00" fill="#b3b3b3" stroke="#333333" stroke-width="0.75"/>
<line x1="622.83" y1="359.40" x2="628.15" y2="359.40" stroke="#333333" stroke-width="1.5"/>
<rect x="629.92" y="332.50" width="5.31" height="36.70" fill="#b3b3b3" stroke="#333333" stroke-width="0.75"/>
<line x1="629.92" y1="352.10" x2="635.23" y2="352.10" stroke="#333333" stroke-width="1.5"/>
<rect x="637.00" y="336.50" width="5.31" height="35.00" fill="#b3b3b3" stroke="#333333" stroke-width="0.75"/>
<line x1="637.00" y1="355.20" x2="642.32" y2="355.20" stroke="#333333" stroke-width="1.5"/>
<rect x="644.09" y="337.00" width="5.31" height="35.10" fill="#b3b3b3" stroke="#333333" stroke-width="0.75"/>
<line x1="644.09" y1="355.60" x2="649.40" y2="355.60" stroke="#333333" stroke-width="1.5"/>
<rect x="651.17" y="340.70" width="5.31" height="30.80" fill="#b3b3b3" stroke="#333333" stroke-width="0.75"/>
<line x1="651.17" y1="356.10" x2="656.49" y2="356.10" stroke="#333333" stroke-width="1.5"/>
<rect x="658.26" y="336.50" width="5.31" height="35.60" fill="#b3b3b3" stroke="#333333" stroke-width="0.75"/>
<line x1="658.26" y1="355.20" x2="663.57" y2="355.20" stroke="#333333" stroke-width="1.5"/>
<rect x="665.34" y="337.60" width="5.31" height="33.90" fill="#b3b3b3" stroke="#333333" stroke-width="0.75"/>
<line x1="665.34" y1="356.10" x2="670.66" y2="356.10" stroke="#333333" stroke-width="1.5"/>
<circle cx="391.69" cy="303.00" r="1.45" fill="#7a7a7a" fill-opacity="0.42" stroke="#666666" stroke-opacity="0.5" stroke-width="0.6"/>
<circle cx="391.69" cy="304.00" r="1.45" fill="#7a7a7a" fill-opacity="0.42" stroke="#666666" stroke-opacity="0.5" stroke-width="0.6"/>
<circle cx="391.69" cy="416.90" r="1.45" fill="#7a7a7a" fill-opacity="0.42" stroke="#666666" stroke-opacity="0.5" stroke-width="0.6"/>
<circle cx="398.77" cy="293.40" r="1.45" fill="#7a7a7a" fill-opacity="0.42" stroke="#666666" stroke-opacity="0.5" stroke-width="0.6"/>
<circle cx="398.77" cy="295.40" r="1.45" fill="#7a7a7a" fill-opacity="0.42" stroke="#666666" stroke-opacity="0.5" stroke-width="0.6"/>
<circle cx="405.86" cy="290.10" r="1.45" fill="#7a7a7a" fill-opacity="0.42" stroke="#666666" stroke-opacity="0.5" stroke-width="0.6"/>
<circle cx="405.86" cy="305.00" r="1.45" fill="#7a7a7a" fill-opacity="0.42" stroke="#666666" stroke-opacity="0.5" stroke-width="0.6"/>
<circle cx="412.94" cy="306.00" r="1.45" fill="#7a7a7a" fill-opacity="0.42" stroke="#666666" stroke-opacity="0.5" stroke-width="0.6"/>
<circle cx="420.03" cy="310.70" r="1.45" fill="#7a7a7a" fill-opacity="0.42" stroke="#666666" stroke-opacity="0.5" stroke-width="0.6"/>
<circle cx="427.11" cy="304.40" r="1.45" fill="#7a7a7a" fill-opacity="0.42" stroke="#666666" stroke-opacity="0.5" stroke-width="0.6"/>
<circle cx="434.20" cy="280.50" r="1.45" fill="#7a7a7a" fill-opacity="0.42" stroke="#666666" stroke-opacity="0.5" stroke-width="0.6"/>
<circle cx="448.37" cy="304.60" r="1.45" fill="#7a7a7a" fill-opacity="0.42" stroke="#666666" stroke-opacity="0.5" stroke-width="0.6"/>
<circle cx="448.37" cy="307.70" r="1.45" fill="#7a7a7a" fill-opacity="0.42" stroke="#666666" stroke-opacity="0.5" stroke-width="0.6"/>
<circle cx="448.37" cy="309.10" r="1.45" fill="#7a7a7a" fill-opacity="0.42" stroke="#666666" stroke-opacity="0.5" stroke-width="0.6"/>
<circle cx="455.45" cy="288.30" r="1.45" fill="#7a7a7a" fill-opacity="0.42" stroke="#666666" stroke-opacity="0.5" stroke-width="0.6"/>
<circle cx="462.54" cy="278.50" r="1.45" fill="#7a7a7a" fill-opacity="0.42" stroke="#666666" stroke-opacity="0.5" stroke-width="0.6"/>
<circle cx="462.54" cy="292.80" r="1.45" fill="#7a7a7a" fill-opacity="0.42" stroke="#666666" stroke-opacity="0.5" stroke-width="0.6"/>
<circle cx="462.54" cy="295.80" r="1.45" fill="#7a7a7a" fill-opacity="0.42" stroke="#666666" stroke-opacity="0.5" stroke-width="0.6"/>
<circle cx="469.62" cy="257.00" r="1.45" fill="#7a7a7a" fill-opacity="0.42" stroke="#666666" stroke-opacity="0.5" stroke-width="0.6"/>
<circle cx="469.62" cy="282.60" r="1.45" fill="#7a7a7a" fill-opacity="0.42" stroke="#666666" stroke-opacity="0.5" stroke-width="0.6"/>
<circle cx="483.79" cy="297.90" r="1.45" fill="#7a7a7a" fill-opacity="0.42" stroke="#666666" stroke-opacity="0.5" stroke-width="0.6"/>
<circle cx="483.79" cy="305.00" r="1.45" fill="#7a7a7a" fill-opacity="0.42" stroke="#666666" stroke-opacity="0.5" stroke-width="0.6"/>
<circle cx="490.88" cy="254.00" r="1.45" fill="#7a7a7a" fill-opacity="0.42" stroke="#666666" stroke-opacity="0.5" stroke-width="0.6"/>
<circle cx="490.88" cy="273.00" r="1.45" fill="#7a7a7a" fill-opacity="0.42" stroke="#666666" stroke-opacity="0.5" stroke-width="0.6"/>
<circle cx="497.96" cy="263.20" r="1.45" fill="#7a7a7a" fill-opacity="0.42" stroke="#666666" stroke-opacity="0.5" stroke-width="0.6"/>
<circle cx="512.13" cy="273.00" r="1.45" fill="#7a7a7a" fill-opacity="0.42" stroke="#666666" stroke-opacity="0.5" stroke-width="0.6"/>
<circle cx="533.38" cy="296.70" r="1.45" fill="#7a7a7a" fill-opacity="0.42" stroke="#666666" stroke-opacity="0.5" stroke-width="0.6"/>
<circle cx="533.38" cy="419.10" r="1.45" fill="#7a7a7a" fill-opacity="0.42" stroke="#666666" stroke-opacity="0.5" stroke-width="0.6"/>
<circle cx="547.56" cy="282.40" r="1.45" fill="#7a7a7a" fill-opacity="0.42" stroke="#666666" stroke-opacity="0.5" stroke-width="0.6"/>
<circle cx="547.56" cy="293.90" r="1.45" fill="#7a7a7a" fill-opacity="0.42" stroke="#666666" stroke-opacity="0.5" stroke-width="0.6"/>
<circle cx="554.64" cy="293.20" r="1.45" fill="#7a7a7a" fill-opacity="0.42" stroke="#666666" stroke-opacity="0.5" stroke-width="0.6"/>
<circle cx="568.81" cy="274.80" r="1.45" fill="#7a7a7a" fill-opacity="0.42" stroke="#666666" stroke-opacity="0.5" stroke-width="0.6"/>
<circle cx="568.81" cy="287.70" r="1.45" fill="#7a7a7a" fill-opacity="0.42" stroke="#666666" stroke-opacity="0.5" stroke-width="0.6"/>
<circle cx="568.81" cy="291.10" r="1.45" fill="#7a7a7a" fill-opacity="0.42" stroke="#666666" stroke-opacity="0.5" stroke-width="0.6"/>
<circle cx="568.81" cy="417.80" r="1.45" fill="#7a7a7a" fill-opacity="0.42" stroke="#666666" stroke-opacity="0.5" stroke-width="0.6"/>
<circle cx="568.81" cy="421.10" r="1.45" fill="#7a7a7a" fill-opacity="0.42" stroke="#666666" stroke-opacity="0.5" stroke-width="0.6"/>
<circle cx="582.98" cy="288.80" r="1.45" fill="#7a7a7a" fill-opacity="0.42" stroke="#666666" stroke-opacity="0.5" stroke-width="0.6"/>
<circle cx="582.98" cy="307.60" r="1.45" fill="#7a7a7a" fill-opacity="0.42" stroke="#666666" stroke-opacity="0.5" stroke-width="0.6"/>
<circle cx="590.07" cy="273.10" r="1.45" fill="#7a7a7a" fill-opacity="0.42" stroke="#666666" stroke-opacity="0.5" stroke-width="0.6"/>
<circle cx="590.07" cy="292.40" r="1.45" fill="#7a7a7a" fill-opacity="0.42" stroke="#666666" stroke-opacity="0.5" stroke-width="0.6"/>
<circle cx="590.07" cy="293.90" r="1.45" fill="#7a7a7a" fill-opacity="0.42" stroke="#666666" stroke-opacity="0.5" stroke-width="0.6"/>
<circle cx="590.07" cy="296.90" r="1.45" fill="#7a7a7a" fill-opacity="0.42" stroke="#666666" stroke-opacity="0.5" stroke-width="0.6"/>
<circle cx="597.15" cy="268.00" r="1.45" fill="#7a7a7a" fill-opacity="0.42" stroke="#666666" stroke-opacity="0.5" stroke-width="0.6"/>
<circle cx="597.15" cy="270.40" r="1.45" fill="#7a7a7a" fill-opacity="0.42" stroke="#666666" stroke-opacity="0.5" stroke-width="0.6"/>
<circle cx="604.24" cy="294.90" r="1.45" fill="#7a7a7a" fill-opacity="0.42" stroke="#666666" stroke-opacity="0.5" stroke-width="0.6"/>
<circle cx="604.24" cy="303.50" r="1.45" fill="#7a7a7a" fill-opacity="0.42" stroke="#666666" stroke-opacity="0.5" stroke-width="0.6"/>
<circle cx="611.32" cy="287.10" r="1.45" fill="#7a7a7a" fill-opacity="0.42" stroke="#666666" stroke-opacity="0.5" stroke-width="0.6"/>
<circle cx="611.32" cy="294.30" r="1.45" fill="#7a7a7a" fill-opacity="0.42" stroke="#666666" stroke-opacity="0.5" stroke-width="0.6"/>
<circle cx="611.32" cy="419.80" r="1.45" fill="#7a7a7a" fill-opacity="0.42" stroke="#666666" stroke-opacity="0.5" stroke-width="0.6"/>
<circle cx="632.58" cy="265.90" r="1.45" fill="#7a7a7a" fill-opacity="0.42" stroke="#666666" stroke-opacity="0.5" stroke-width="0.6"/>
<circle cx="646.75" cy="256.10" r="1.45" fill="#7a7a7a" fill-opacity="0.42" stroke="#666666" stroke-opacity="0.5" stroke-width="0.6"/>
<circle cx="653.83" cy="258.20" r="1.45" fill="#7a7a7a" fill-opacity="0.42" stroke="#666666" stroke-opacity="0.5" stroke-width="0.6"/>
<circle cx="653.83" cy="279.00" r="1.45" fill="#7a7a7a" fill-opacity="0.42" stroke="#666666" stroke-opacity="0.5" stroke-width="0.6"/>
<circle cx="653.83" cy="287.80" r="1.45" fill="#7a7a7a" fill-opacity="0.42" stroke="#666666" stroke-opacity="0.5" stroke-width="0.6"/>
<circle cx="660.91" cy="274.10" r="1.45" fill="#7a7a7a" fill-opacity="0.42" stroke="#666666" stroke-opacity="0.5" stroke-width="0.6"/>
<circle cx="660.91" cy="281.00" r="1.45" fill="#7a7a7a" fill-opacity="0.42" stroke="#666666" stroke-opacity="0.5" stroke-width="0.6"/>
<circle cx="668.00" cy="255.70" r="1.45" fill="#7a7a7a" fill-opacity="0.42" stroke="#666666" stroke-opacity="0.5" stroke-width="0.6"/>
<circle cx="668.00" cy="270.80" r="1.45" fill="#7a7a7a" fill-opacity="0.42" stroke="#666666" stroke-opacity="0.5" stroke-width="0.6"/>
<circle cx="668.00" cy="270.80" r="1.45" fill="#7a7a7a" fill-opacity="0.42" stroke="#666666" stroke-opacity="0.5" stroke-width="0.6"/>
<path d="M388.58 385.20L394.79 391.40M388.58 391.40L394.79 385.20" stroke="#0000ff" stroke-width="1.5" fill="none"/>
<path d="M395.67 364.50L401.87 370.70M395.67 370.70L401.87 364.50" stroke="#0000ff" stroke-width="1.5" fill="none"/>
<path d="M402.75 337.20L408.96 343.40M402.75 343.40L408.96 337.20" stroke="#0000ff" stroke-width="1.5" fill="none"/>
<path d="M409.84 360.60L416.04 366.80M409.84 366.80L416.04 360.60" stroke="#0000ff" stroke-width="1.5" fill="none"/>
<path d="M416.93 323.60L423.13 329.80M416.93 329.80L423.13 323.60" stroke="#0000ff" stroke-width="1.5" fill="none"/>
<path d="M424.01 369.90L430.21 376.10M424.01 376.10L430.21 369.90" stroke="#0000ff" stroke-width="1.5" fill="none"/>
<path d="M431.10 323.60L437.30 329.80M431.10 329.80L437.30 323.60" stroke="#0000ff" stroke-width="1.5" fill="none"/>
<path d="M438.18 353.90L444.38 360.10M438.18 360.10L444.38 353.90" stroke="#0000ff" stroke-width="1.5" fill="none"/>
<path d="M445.26 360.80L451.47 367.00M445.26 367.00L451.47 360.80" stroke="#0000ff" stroke-width="1.5" fill="none"/>
<path d="M452.35 318.40L458.55 324.60M452.35 324.60L458.55 318.40" stroke="#0000ff" stroke-width="1.5" fill="none"/>
<path d="M459.44 301.50L465.64 307.70M459.44 307.70L465.64 301.50" stroke="#0000ff" stroke-width="1.5" fill="none"/>
<path d="M466.52 344.50L472.72 350.70M466.52 350.70L472.72 344.50" stroke="#0000ff" stroke-width="1.5" fill="none"/>
<path d="M473.61 347.70L479.81 353.90M473.61 353.90L479.81 347.70" stroke="#0000ff" stroke-width="1.5" fill="none"/>
<path d="M480.69 355.00L486.89 361.20M480.69 361.20L486.89 355.00" stroke="#0000ff" stroke-width="1.5" fill="none"/>
<path d="M487.77 356.40L493.98 362.60M487.77 362.60L493.98 356.40" stroke="#0000ff" stroke-width="1.5" fill="none"/>
<path d="M494.86 366.40L501.06 372.60M494.86 372.60L501.06 366.40" stroke="#0000ff" stroke-width="1.5" fill="none"/>
<path d="M501.94 355.50L508.15 361.70M501.94 361.70L508.15 355.50" stroke="#0000ff" stroke-width="1.5" fill="none"/>
<path d="M509.03 285.10L515.23 291.30M509.03 291.30L515.23 285.10" stroke="#0000ff" stroke-width="1.5" fill="none"/>
<path d="M516.12 337.70L522.32 343.90M516.12 343.90L522.32 337.70" stroke="#0000ff" stroke-width="1.5" fill="none"/>
<path d="M523.20 383.70L529.40 389.90M523.20 389.90L529.40 383.70" stroke="#0000ff" stroke-width="1.5" fill="none"/>
<path d="M530.28 398.40L536.49 404.60M530.28 404.60L536.49 398.40" stroke="#0000ff" stroke-width="1.5" fill="none"/>
<path d="M537.37 322.70L543.57 328.90M537.37 328.90L543.57 322.70" stroke="#0000ff" stroke-width="1.5" fill="none"/>
<path d="M544.46 339.90L550.66 346.10M544.46 346.10L550.66 339.90" stroke="#0000ff" stroke-width="1.5" fill="none"/>
<path d="M551.54 363.30L557.74 369.50M551.54 369.50L557.74 363.30" stroke="#0000ff" stroke-width="1.5" fill="none"/>
<path d="M558.62 369.10L564.83 375.30M558.62 375.30L564.83 369.10" stroke="#0000ff" stroke-width="1.5" fill="none"/>
<path d="M565.71 363.00L571.91 369.20M565.71 369.20L571.91 363.00" stroke="#0000ff" stroke-width="1.5" fill="none"/>
<path d="M572.79 354.40L579.00 360.60M572.79 360.60L579.00 354.40" stroke="#0000ff" stroke-width="1.5" fill="none"/>
<path d="M579.88 357.50L586.08 363.70M579.88 363.70L586.08 357.50" stroke="#0000ff" stroke-width="1.5" fill="none"/>
<path d="M586.97 358.80L593.17 365.00M586.97 365.00L593.17 358.80" stroke="#0000ff" stroke-width="1.5" fill="none"/>
<path d="M594.05 357.50L600.25 363.70M594.05 363.70L600.25 357.50" stroke="#0000ff" stroke-width="1.5" fill="none"/>
<path d="M601.13 396.50L607.34 402.70M601.13 402.70L607.34 396.50" stroke="#0000ff" stroke-width="1.5" fill="none"/>
<path d="M608.22 369.40L614.42 375.60M608.22 375.60L614.42 369.40" stroke="#0000ff" stroke-width="1.5" fill="none"/>
<path d="M615.30 363.50L621.50 369.70M615.30 369.70L621.50 363.50" stroke="#0000ff" stroke-width="1.5" fill="none"/>
<path d="M622.39 359.30L628.59 365.50M622.39 365.50L628.59 359.30" stroke="#0000ff" stroke-width="1.5" fill="none"/>
<path d="M629.48 357.50L635.68 363.70M629.48 363.70L635.68 357.50" stroke="#0000ff" stroke-width="1.5" fill="none"/>
<path d="M636.56 353.40L642.76 359.60M636.56 359.60L642.76 353.40" stroke="#0000ff" stroke-width="1.5" fill="none"/>
<path d="M643.64 375.10L649.85 381.30M643.64 381.30L649.85 375.10" stroke="#0000ff" stroke-width="1.5" fill="none"/>
<path d="M650.73 337.60L656.93 343.80M650.73 343.80L656.93 337.60" stroke="#0000ff" stroke-width="1.5" fill="none"/>
<path d="M657.81 385.40L664.01 391.60M657.81 391.60L664.01 385.40" stroke="#0000ff" stroke-width="1.5" fill="none"/>
<path d="M664.90 375.10L671.10 381.30M664.90 381.30L671.10 375.10" stroke="#0000ff" stroke-width="1.5" fill="none"/>
<line x1="375.10" y1="245.90" x2="375.10" y2="432.30" stroke="#333333" stroke-width="1.2"/>
<line x1="374.60" y1="431.80" x2="684.60" y2="431.80" stroke="#333333" stroke-width="1.2"/>
<line x1="372.90" y1="293.40" x2="375.10" y2="293.40" stroke="#333333" stroke-width="1.07"/>
<text transform="translate(370.80,295.95) scale(1.13,1)" text-anchor="end" font-size="7.1" fill="#4d4d4d">300</text>
<line x1="372.90" y1="345.40" x2="375.10" y2="345.40" stroke="#333333" stroke-width="1.07"/>
<text transform="translate(370.80,347.95) scale(1.13,1)" text-anchor="end" font-size="7.1" fill="#4d4d4d">200</text>
<line x1="372.90" y1="397.30" x2="375.10" y2="397.30" stroke="#333333" stroke-width="1.07"/>
<text transform="translate(370.80,399.85) scale(1.13,1)" text-anchor="end" font-size="7.1" fill="#4d4d4d">100</text>
<line x1="384.60" y1="431.80" x2="384.60" y2="434.00" stroke="#333333" stroke-width="1.07"/>
<text transform="translate(384.60,441.00) scale(1.05,1)" text-anchor="middle" font-size="7.8" fill="#4d4d4d">1980</text>
<line x1="455.45" y1="431.80" x2="455.45" y2="434.00" stroke="#333333" stroke-width="1.07"/>
<text transform="translate(455.45,441.00) scale(1.05,1)" text-anchor="middle" font-size="7.8" fill="#4d4d4d">1990</text>
<line x1="526.30" y1="431.80" x2="526.30" y2="434.00" stroke="#333333" stroke-width="1.07"/>
<text transform="translate(526.30,441.00) scale(1.05,1)" text-anchor="middle" font-size="7.8" fill="#4d4d4d">2000</text>
<line x1="597.15" y1="431.80" x2="597.15" y2="434.00" stroke="#333333" stroke-width="1.07"/>
<text transform="translate(597.15,441.00) scale(1.05,1)" text-anchor="middle" font-size="7.8" fill="#4d4d4d">2010</text>
<line x1="668.00" y1="431.80" x2="668.00" y2="434.00" stroke="#333333" stroke-width="1.07"/>
<text transform="translate(668.00,441.00) scale(1.05,1)" text-anchor="middle" font-size="7.8" fill="#4d4d4d">2020</text>
<text transform="translate(352.70,338.75) rotate(-90)" text-anchor="middle" font-size="8.4" stroke="#000" stroke-width="0.05" fill="#000" textLength="78.1" lengthAdjust="spacingAndGlyphs">Total precipitation</text>
<path d="M419.10 245.70L425.10 251.70M419.10 251.70L425.10 245.70" stroke="#0000ff" stroke-width="1.5" fill="none"/>
<text x="433.20" y="251.45" font-size="7.1" fill="#1a1a1a" stroke="#1a1a1a" stroke-width="0.12">OBS</text>
<line x1="422.10" y1="256.60" x2="422.10" y2="267.80" stroke="#333333" stroke-width="1.0"/>
<rect x="416.80" y="258.70" width="10.6" height="7.2" fill="#b3b3b3" stroke="#333333" stroke-width="0.9"/>
<line x1="416.80" y1="262.30" x2="427.40" y2="262.30" stroke="#333333" stroke-width="1.1"/>
<text x="433.20" y="264.70" font-size="7.1" fill="#1a1a1a" stroke="#1a1a1a" stroke-width="0.12">UNSEEN</text>
<text x="346.70" y="239.00" font-size="12.5" font-weight="bold" fill="#000">d</text>
</svg>
</body></html>
